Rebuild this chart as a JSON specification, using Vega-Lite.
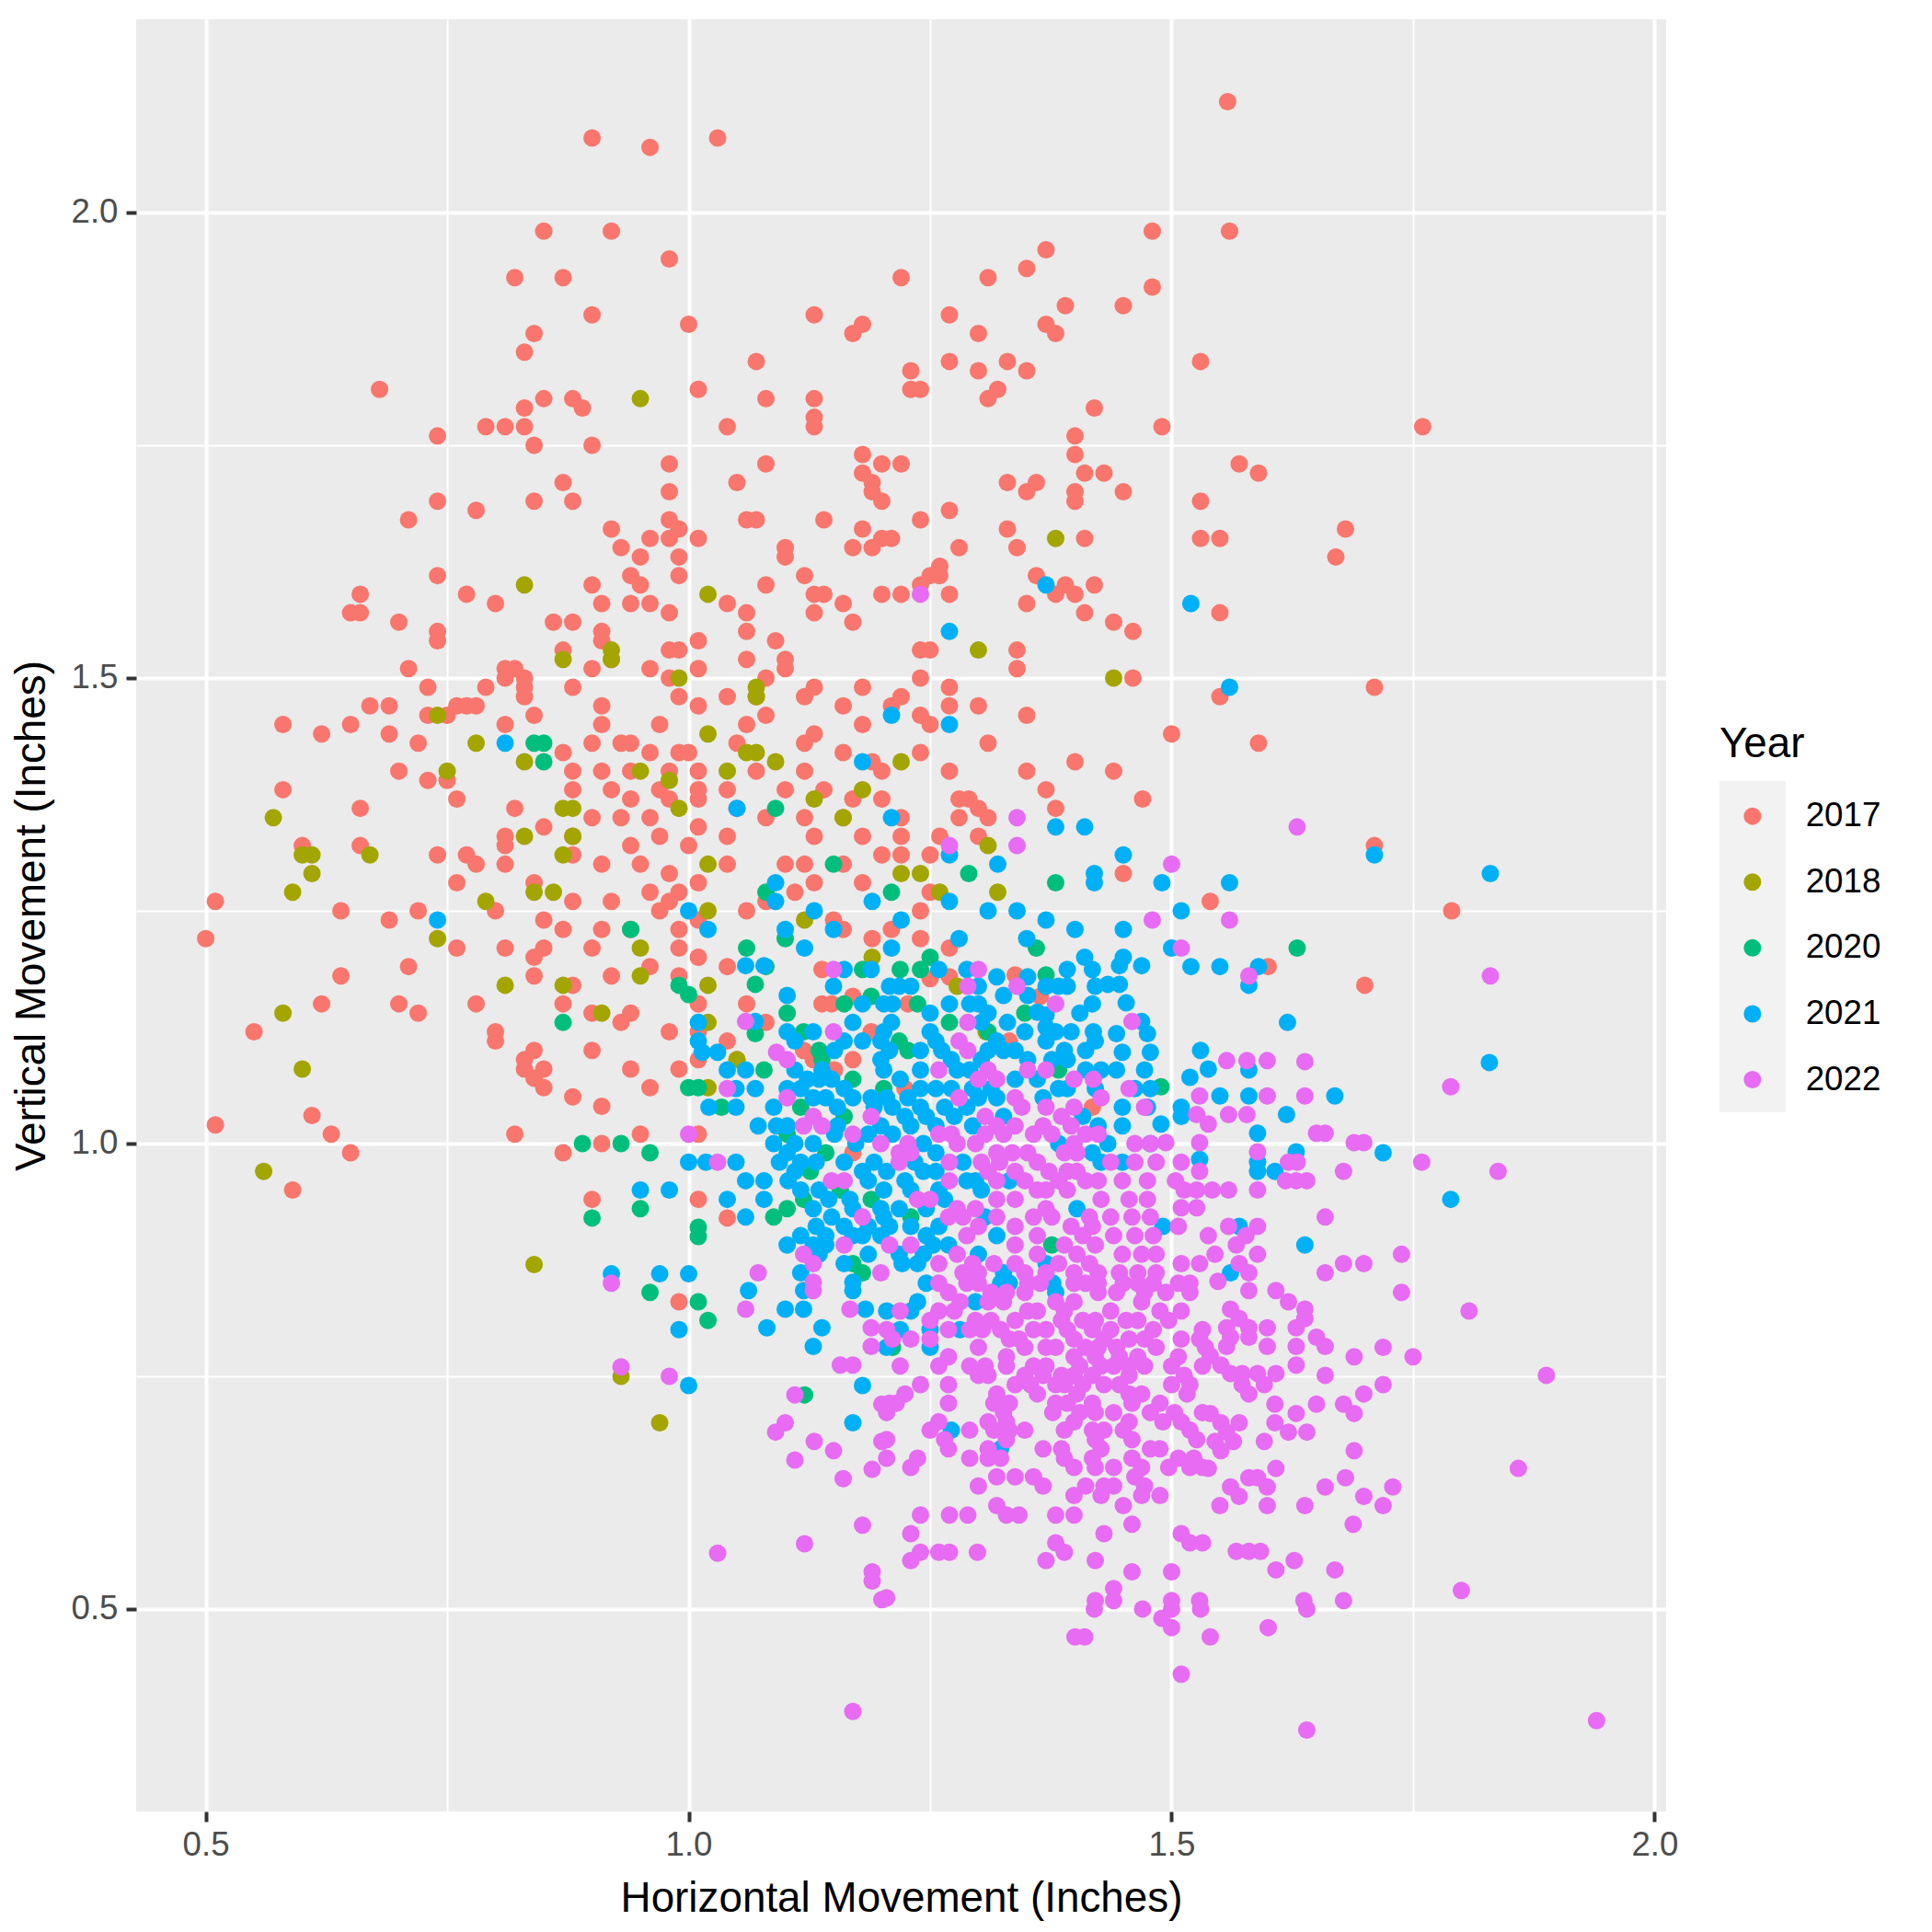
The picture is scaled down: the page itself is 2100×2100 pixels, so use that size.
{
  "$schema": "https://vega.github.io/schema/vega-lite/v6.json",
  "width": 1663,
  "height": 1948,
  "autosize": {"type": "none"},
  "padding": {"left": 148, "top": 21, "right": 289, "bottom": 131},
  "background": "white",
  "data": {"values": [
{"h":1.558,"v":2.119,"Year":"2017"},{"h":0.9,"v":2.08,"Year":"2017"},{"h":0.96,"v":2.07,"Year":"2017"},{"h":1.03,"v":2.08,"Year":"2017"},{"h":0.85,"v":1.98,"Year":"2017"},{"h":0.92,"v":1.98,"Year":"2017"},{"h":1.48,"v":1.98,"Year":"2017"},{"h":1.56,"v":1.98,"Year":"2017"},{"h":0.98,"v":1.95,"Year":"2017"},{"h":1.37,"v":1.96,"Year":"2017"},
{"h":1.35,"v":1.94,"Year":"2017"},{"h":1.22,"v":1.93,"Year":"2017"},{"h":0.82,"v":1.93,"Year":"2017"},{"h":0.87,"v":1.93,"Year":"2017"},{"h":1.31,"v":1.93,"Year":"2017"},{"h":1.48,"v":1.92,"Year":"2017"},{"h":1.39,"v":1.9,"Year":"2017"},{"h":1.45,"v":1.9,"Year":"2017"},{"h":0.9,"v":1.89,"Year":"2017"},{"h":1.13,"v":1.89,"Year":"2017"},
{"h":1.27,"v":1.89,"Year":"2017"},{"h":1.0,"v":1.88,"Year":"2017"},{"h":1.18,"v":1.88,"Year":"2017"},{"h":1.17,"v":1.87,"Year":"2017"},{"h":1.3,"v":1.87,"Year":"2017"},{"h":0.84,"v":1.87,"Year":"2017"},{"h":1.37,"v":1.88,"Year":"2017"},{"h":1.38,"v":1.87,"Year":"2017"},{"h":0.83,"v":1.85,"Year":"2017"},{"h":1.07,"v":1.84,"Year":"2017"},
{"h":1.23,"v":1.83,"Year":"2017"},{"h":1.27,"v":1.84,"Year":"2017"},{"h":1.3,"v":1.83,"Year":"2017"},{"h":1.33,"v":1.84,"Year":"2017"},{"h":1.35,"v":1.83,"Year":"2017"},{"h":1.53,"v":1.84,"Year":"2017"},{"h":0.68,"v":1.81,"Year":"2017"},{"h":0.85,"v":1.8,"Year":"2017"},{"h":0.88,"v":1.8,"Year":"2017"},{"h":0.89,"v":1.79,"Year":"2017"},
{"h":1.01,"v":1.81,"Year":"2017"},{"h":1.08,"v":1.8,"Year":"2017"},{"h":1.13,"v":1.8,"Year":"2017"},{"h":1.23,"v":1.81,"Year":"2017"},{"h":1.24,"v":1.81,"Year":"2017"},{"h":1.31,"v":1.8,"Year":"2017"},{"h":1.32,"v":1.81,"Year":"2017"},{"h":1.42,"v":1.79,"Year":"2017"},{"h":0.83,"v":1.79,"Year":"2017"},{"h":0.79,"v":1.77,"Year":"2017"},
{"h":0.81,"v":1.77,"Year":"2017"},{"h":0.83,"v":1.77,"Year":"2017"},{"h":1.04,"v":1.77,"Year":"2017"},{"h":1.13,"v":1.78,"Year":"2017"},{"h":1.13,"v":1.77,"Year":"2017"},{"h":0.74,"v":1.76,"Year":"2017"},{"h":0.84,"v":1.75,"Year":"2017"},{"h":0.9,"v":1.75,"Year":"2017"},{"h":0.98,"v":1.73,"Year":"2017"},{"h":1.08,"v":1.73,"Year":"2017"},
{"h":1.18,"v":1.74,"Year":"2017"},{"h":1.2,"v":1.73,"Year":"2017"},{"h":1.22,"v":1.73,"Year":"2017"},{"h":1.4,"v":1.76,"Year":"2017"},{"h":1.4,"v":1.74,"Year":"2017"},{"h":1.49,"v":1.77,"Year":"2017"},{"h":1.76,"v":1.77,"Year":"2017"},{"h":1.57,"v":1.73,"Year":"2017"},{"h":1.59,"v":1.72,"Year":"2017"},{"h":1.41,"v":1.72,"Year":"2017"},
{"h":1.43,"v":1.72,"Year":"2017"},{"h":0.87,"v":1.71,"Year":"2017"},{"h":1.05,"v":1.71,"Year":"2017"},{"h":1.18,"v":1.72,"Year":"2017"},{"h":1.19,"v":1.71,"Year":"2017"},{"h":1.33,"v":1.71,"Year":"2017"},{"h":1.36,"v":1.71,"Year":"2017"},{"h":0.78,"v":1.68,"Year":"2017"},{"h":0.74,"v":1.69,"Year":"2017"},{"h":0.88,"v":1.69,"Year":"2017"},
{"h":0.84,"v":1.69,"Year":"2017"},{"h":0.98,"v":1.7,"Year":"2017"},{"h":1.19,"v":1.7,"Year":"2017"},{"h":1.2,"v":1.69,"Year":"2017"},{"h":1.27,"v":1.68,"Year":"2017"},{"h":1.35,"v":1.7,"Year":"2017"},{"h":1.4,"v":1.7,"Year":"2017"},{"h":1.4,"v":1.69,"Year":"2017"},{"h":1.45,"v":1.7,"Year":"2017"},{"h":1.53,"v":1.69,"Year":"2017"},
{"h":0.71,"v":1.67,"Year":"2017"},{"h":0.92,"v":1.66,"Year":"2017"},{"h":0.98,"v":1.67,"Year":"2017"},{"h":0.99,"v":1.66,"Year":"2017"},{"h":1.06,"v":1.67,"Year":"2017"},{"h":1.07,"v":1.67,"Year":"2017"},{"h":1.14,"v":1.67,"Year":"2017"},{"h":1.18,"v":1.66,"Year":"2017"},{"h":1.24,"v":1.67,"Year":"2017"},{"h":1.33,"v":1.66,"Year":"2017"},
{"h":1.68,"v":1.66,"Year":"2017"},{"h":1.53,"v":1.65,"Year":"2017"},{"h":1.55,"v":1.65,"Year":"2017"},{"h":1.41,"v":1.65,"Year":"2017"},{"h":0.96,"v":1.65,"Year":"2017"},{"h":0.98,"v":1.65,"Year":"2017"},{"h":1.01,"v":1.65,"Year":"2017"},{"h":1.1,"v":1.64,"Year":"2017"},{"h":1.2,"v":1.65,"Year":"2017"},{"h":1.21,"v":1.65,"Year":"2017"},
{"h":1.28,"v":1.64,"Year":"2017"},{"h":1.67,"v":1.63,"Year":"2017"},{"h":0.93,"v":1.64,"Year":"2017"},{"h":0.95,"v":1.63,"Year":"2017"},{"h":0.99,"v":1.63,"Year":"2017"},{"h":1.1,"v":1.63,"Year":"2017"},{"h":1.17,"v":1.64,"Year":"2017"},{"h":1.19,"v":1.64,"Year":"2017"},{"h":1.34,"v":1.64,"Year":"2017"},{"h":0.94,"v":1.61,"Year":"2017"},
{"h":0.99,"v":1.61,"Year":"2017"},{"h":1.12,"v":1.61,"Year":"2017"},{"h":1.26,"v":1.62,"Year":"2017"},{"h":1.26,"v":1.61,"Year":"2017"},{"h":1.36,"v":1.61,"Year":"2017"},{"h":0.74,"v":1.61,"Year":"2017"},{"h":0.66,"v":1.59,"Year":"2017"},{"h":0.77,"v":1.59,"Year":"2017"},{"h":0.9,"v":1.6,"Year":"2017"},{"h":0.95,"v":1.6,"Year":"2017"},
{"h":1.08,"v":1.6,"Year":"2017"},{"h":1.24,"v":1.6,"Year":"2017"},{"h":1.25,"v":1.61,"Year":"2017"},{"h":1.27,"v":1.59,"Year":"2017"},{"h":1.39,"v":1.6,"Year":"2017"},{"h":1.42,"v":1.6,"Year":"2017"},{"h":1.4,"v":1.59,"Year":"2017"},{"h":0.91,"v":1.58,"Year":"2017"},{"h":0.94,"v":1.58,"Year":"2017"},{"h":0.96,"v":1.58,"Year":"2017"},
{"h":1.04,"v":1.58,"Year":"2017"},{"h":1.13,"v":1.59,"Year":"2017"},{"h":1.14,"v":1.59,"Year":"2017"},{"h":1.16,"v":1.58,"Year":"2017"},{"h":1.2,"v":1.59,"Year":"2017"},{"h":1.22,"v":1.59,"Year":"2017"},{"h":1.38,"v":1.59,"Year":"2017"},{"h":1.35,"v":1.58,"Year":"2017"},{"h":0.8,"v":1.58,"Year":"2017"},{"h":0.65,"v":1.57,"Year":"2017"},
{"h":0.66,"v":1.57,"Year":"2017"},{"h":0.7,"v":1.56,"Year":"2017"},{"h":0.86,"v":1.56,"Year":"2017"},{"h":0.88,"v":1.56,"Year":"2017"},{"h":0.98,"v":1.57,"Year":"2017"},{"h":1.06,"v":1.57,"Year":"2017"},{"h":1.13,"v":1.57,"Year":"2017"},{"h":1.17,"v":1.56,"Year":"2017"},{"h":1.41,"v":1.57,"Year":"2017"},{"h":1.44,"v":1.56,"Year":"2017"},
{"h":1.46,"v":1.55,"Year":"2017"},{"h":1.55,"v":1.57,"Year":"2017"},{"h":0.74,"v":1.55,"Year":"2017"},{"h":0.91,"v":1.55,"Year":"2017"},{"h":0.91,"v":1.54,"Year":"2017"},{"h":1.01,"v":1.54,"Year":"2017"},{"h":1.06,"v":1.55,"Year":"2017"},{"h":1.09,"v":1.54,"Year":"2017"},{"h":1.34,"v":1.53,"Year":"2017"},{"h":0.74,"v":1.54,"Year":"2017"},
{"h":0.87,"v":1.53,"Year":"2017"},{"h":0.92,"v":1.52,"Year":"2017"},{"h":0.98,"v":1.53,"Year":"2017"},{"h":0.99,"v":1.53,"Year":"2017"},{"h":1.06,"v":1.52,"Year":"2017"},{"h":1.1,"v":1.52,"Year":"2017"},{"h":1.24,"v":1.53,"Year":"2017"},{"h":1.25,"v":1.53,"Year":"2017"},{"h":0.71,"v":1.51,"Year":"2017"},{"h":0.82,"v":1.51,"Year":"2017"},
{"h":0.81,"v":1.51,"Year":"2017"},{"h":0.9,"v":1.51,"Year":"2017"},{"h":0.96,"v":1.51,"Year":"2017"},{"h":1.01,"v":1.51,"Year":"2017"},{"h":1.08,"v":1.5,"Year":"2017"},{"h":1.1,"v":1.51,"Year":"2017"},{"h":1.34,"v":1.51,"Year":"2017"},{"h":1.46,"v":1.5,"Year":"2017"},{"h":0.83,"v":1.5,"Year":"2017"},{"h":0.81,"v":1.5,"Year":"2017"},
{"h":0.98,"v":1.5,"Year":"2017"},{"h":1.13,"v":1.49,"Year":"2017"},{"h":1.18,"v":1.49,"Year":"2017"},{"h":1.24,"v":1.5,"Year":"2017"},{"h":1.27,"v":1.49,"Year":"2017"},{"h":1.71,"v":1.49,"Year":"2017"},{"h":0.73,"v":1.49,"Year":"2017"},{"h":0.79,"v":1.49,"Year":"2017"},{"h":0.83,"v":1.49,"Year":"2017"},{"h":0.88,"v":1.49,"Year":"2017"},
{"h":1.07,"v":1.48,"Year":"2017"},{"h":1.12,"v":1.48,"Year":"2017"},{"h":1.22,"v":1.48,"Year":"2017"},{"h":1.55,"v":1.48,"Year":"2017"},{"h":0.78,"v":1.47,"Year":"2017"},{"h":0.77,"v":1.47,"Year":"2017"},{"h":0.67,"v":1.47,"Year":"2017"},{"h":0.69,"v":1.47,"Year":"2017"},{"h":0.83,"v":1.48,"Year":"2017"},{"h":0.91,"v":1.47,"Year":"2017"},
{"h":0.99,"v":1.48,"Year":"2017"},{"h":1.01,"v":1.47,"Year":"2017"},{"h":1.04,"v":1.48,"Year":"2017"},{"h":1.16,"v":1.47,"Year":"2017"},{"h":1.21,"v":1.47,"Year":"2017"},{"h":1.27,"v":1.47,"Year":"2017"},{"h":1.3,"v":1.47,"Year":"2017"},{"h":0.73,"v":1.46,"Year":"2017"},{"h":0.75,"v":1.46,"Year":"2017"},{"h":0.76,"v":1.47,"Year":"2017"},
{"h":0.84,"v":1.46,"Year":"2017"},{"h":1.08,"v":1.46,"Year":"2017"},{"h":1.24,"v":1.46,"Year":"2017"},{"h":1.35,"v":1.46,"Year":"2017"},{"h":0.58,"v":1.45,"Year":"2017"},{"h":0.65,"v":1.45,"Year":"2017"},{"h":0.69,"v":1.44,"Year":"2017"},{"h":0.62,"v":1.44,"Year":"2017"},{"h":0.81,"v":1.45,"Year":"2017"},{"h":0.91,"v":1.45,"Year":"2017"},
{"h":0.97,"v":1.45,"Year":"2017"},{"h":1.06,"v":1.45,"Year":"2017"},{"h":1.13,"v":1.44,"Year":"2017"},{"h":1.18,"v":1.45,"Year":"2017"},{"h":1.25,"v":1.45,"Year":"2017"},{"h":1.5,"v":1.44,"Year":"2017"},{"h":1.59,"v":1.43,"Year":"2017"},{"h":0.72,"v":1.43,"Year":"2017"},{"h":0.87,"v":1.42,"Year":"2017"},{"h":0.9,"v":1.43,"Year":"2017"},
{"h":0.93,"v":1.43,"Year":"2017"},{"h":0.94,"v":1.43,"Year":"2017"},{"h":0.96,"v":1.42,"Year":"2017"},{"h":0.99,"v":1.42,"Year":"2017"},{"h":1.0,"v":1.42,"Year":"2017"},{"h":1.05,"v":1.43,"Year":"2017"},{"h":1.12,"v":1.43,"Year":"2017"},{"h":1.16,"v":1.42,"Year":"2017"},{"h":1.31,"v":1.43,"Year":"2017"},{"h":1.4,"v":1.41,"Year":"2017"},
{"h":1.19,"v":1.41,"Year":"2017"},{"h":1.24,"v":1.42,"Year":"2017"},{"h":0.7,"v":1.4,"Year":"2017"},{"h":0.91,"v":1.4,"Year":"2017"},{"h":0.88,"v":1.4,"Year":"2017"},{"h":0.94,"v":1.4,"Year":"2017"},{"h":0.98,"v":1.4,"Year":"2017"},{"h":1.01,"v":1.4,"Year":"2017"},{"h":1.07,"v":1.4,"Year":"2017"},{"h":1.12,"v":1.4,"Year":"2017"},
{"h":1.2,"v":1.4,"Year":"2017"},{"h":1.27,"v":1.4,"Year":"2017"},{"h":1.35,"v":1.4,"Year":"2017"},{"h":1.44,"v":1.4,"Year":"2017"},{"h":0.58,"v":1.38,"Year":"2017"},{"h":0.73,"v":1.39,"Year":"2017"},{"h":0.75,"v":1.39,"Year":"2017"},{"h":0.88,"v":1.38,"Year":"2017"},{"h":0.92,"v":1.38,"Year":"2017"},{"h":0.97,"v":1.38,"Year":"2017"},
{"h":1.01,"v":1.38,"Year":"2017"},{"h":1.04,"v":1.38,"Year":"2017"},{"h":1.1,"v":1.38,"Year":"2017"},{"h":1.14,"v":1.38,"Year":"2017"},{"h":1.37,"v":1.38,"Year":"2017"},{"h":1.47,"v":1.37,"Year":"2017"},{"h":0.76,"v":1.37,"Year":"2017"},{"h":0.94,"v":1.37,"Year":"2017"},{"h":0.98,"v":1.37,"Year":"2017"},{"h":1.01,"v":1.37,"Year":"2017"},
{"h":1.05,"v":1.36,"Year":"2017"},{"h":1.17,"v":1.37,"Year":"2017"},{"h":1.2,"v":1.37,"Year":"2017"},{"h":1.28,"v":1.37,"Year":"2017"},{"h":1.29,"v":1.37,"Year":"2017"},{"h":1.3,"v":1.36,"Year":"2017"},{"h":1.38,"v":1.36,"Year":"2017"},{"h":0.66,"v":1.36,"Year":"2017"},{"h":0.82,"v":1.36,"Year":"2017"},{"h":0.9,"v":1.35,"Year":"2017"},
{"h":0.93,"v":1.35,"Year":"2017"},{"h":0.96,"v":1.35,"Year":"2017"},{"h":1.01,"v":1.34,"Year":"2017"},{"h":1.08,"v":1.35,"Year":"2017"},{"h":1.12,"v":1.35,"Year":"2017"},{"h":1.16,"v":1.35,"Year":"2017"},{"h":1.22,"v":1.35,"Year":"2017"},{"h":1.28,"v":1.35,"Year":"2017"},{"h":1.31,"v":1.35,"Year":"2017"},{"h":0.81,"v":1.33,"Year":"2017"},
{"h":0.85,"v":1.34,"Year":"2017"},{"h":0.88,"v":1.33,"Year":"2017"},{"h":0.97,"v":1.33,"Year":"2017"},{"h":1.04,"v":1.33,"Year":"2017"},{"h":1.13,"v":1.33,"Year":"2017"},{"h":1.18,"v":1.33,"Year":"2017"},{"h":1.22,"v":1.33,"Year":"2017"},{"h":1.26,"v":1.33,"Year":"2017"},{"h":1.3,"v":1.33,"Year":"2017"},{"h":0.6,"v":1.32,"Year":"2017"},
{"h":0.66,"v":1.32,"Year":"2017"},{"h":0.77,"v":1.31,"Year":"2017"},{"h":0.81,"v":1.32,"Year":"2017"},{"h":0.94,"v":1.32,"Year":"2017"},{"h":1.0,"v":1.32,"Year":"2017"},{"h":1.71,"v":1.32,"Year":"2017"},{"h":0.78,"v":1.3,"Year":"2017"},{"h":0.74,"v":1.31,"Year":"2017"},{"h":0.81,"v":1.3,"Year":"2017"},{"h":0.88,"v":1.31,"Year":"2017"},
{"h":0.91,"v":1.3,"Year":"2017"},{"h":0.95,"v":1.3,"Year":"2017"},{"h":1.04,"v":1.3,"Year":"2017"},{"h":1.1,"v":1.3,"Year":"2017"},{"h":1.12,"v":1.3,"Year":"2017"},{"h":1.16,"v":1.3,"Year":"2017"},{"h":1.2,"v":1.31,"Year":"2017"},{"h":1.22,"v":1.31,"Year":"2017"},{"h":1.25,"v":1.31,"Year":"2017"},{"h":0.76,"v":1.28,"Year":"2017"},
{"h":0.84,"v":1.28,"Year":"2017"},{"h":0.98,"v":1.29,"Year":"2017"},{"h":1.01,"v":1.28,"Year":"2017"},{"h":1.13,"v":1.28,"Year":"2017"},{"h":1.18,"v":1.28,"Year":"2017"},{"h":1.45,"v":1.29,"Year":"2017"},{"h":0.99,"v":1.27,"Year":"2017"},{"h":0.96,"v":1.27,"Year":"2017"},{"h":0.88,"v":1.26,"Year":"2017"},{"h":0.92,"v":1.26,"Year":"2017"},
{"h":0.98,"v":1.26,"Year":"2017"},{"h":1.08,"v":1.26,"Year":"2017"},{"h":1.11,"v":1.27,"Year":"2017"},{"h":1.25,"v":1.27,"Year":"2017"},{"h":1.54,"v":1.26,"Year":"2017"},{"h":0.51,"v":1.26,"Year":"2017"},{"h":0.64,"v":1.25,"Year":"2017"},{"h":0.72,"v":1.25,"Year":"2017"},{"h":0.8,"v":1.25,"Year":"2017"},{"h":0.85,"v":1.24,"Year":"2017"},
{"h":0.97,"v":1.25,"Year":"2017"},{"h":1.01,"v":1.24,"Year":"2017"},{"h":1.06,"v":1.25,"Year":"2017"},{"h":1.15,"v":1.24,"Year":"2017"},{"h":1.24,"v":1.25,"Year":"2017"},{"h":0.69,"v":1.24,"Year":"2017"},{"h":1.79,"v":1.25,"Year":"2017"},{"h":0.5,"v":1.22,"Year":"2017"},{"h":0.87,"v":1.23,"Year":"2017"},{"h":0.91,"v":1.23,"Year":"2017"},
{"h":0.94,"v":1.23,"Year":"2017"},{"h":0.99,"v":1.23,"Year":"2017"},{"h":1.16,"v":1.23,"Year":"2017"},{"h":1.19,"v":1.22,"Year":"2017"},{"h":1.21,"v":1.23,"Year":"2017"},{"h":1.24,"v":1.22,"Year":"2017"},{"h":0.76,"v":1.21,"Year":"2017"},{"h":0.81,"v":1.21,"Year":"2017"},{"h":0.85,"v":1.21,"Year":"2017"},{"h":0.9,"v":1.21,"Year":"2017"},
{"h":0.99,"v":1.21,"Year":"2017"},{"h":1.01,"v":1.2,"Year":"2017"},{"h":1.27,"v":1.21,"Year":"2017"},{"h":0.84,"v":1.2,"Year":"2017"},{"h":0.96,"v":1.19,"Year":"2017"},{"h":1.04,"v":1.19,"Year":"2017"},{"h":0.71,"v":1.19,"Year":"2017"},{"h":0.64,"v":1.18,"Year":"2017"},{"h":0.84,"v":1.18,"Year":"2017"},
{"h":0.88,"v":1.17,"Year":"2017"},{"h":0.92,"v":1.18,"Year":"2017"},{"h":0.99,"v":1.18,"Year":"2017"},{"h":1.7,"v":1.17,"Year":"2017"},{"h":1.6,"v":1.19,"Year":"2017"},{"h":0.62,"v":1.15,"Year":"2017"},{"h":0.7,"v":1.15,"Year":"2017"},{"h":0.72,"v":1.14,"Year":"2017"},{"h":0.78,"v":1.15,"Year":"2017"},{"h":0.87,"v":1.15,"Year":"2017"},
{"h":0.9,"v":1.14,"Year":"2017"},{"h":0.94,"v":1.14,"Year":"2017"},{"h":1.01,"v":1.15,"Year":"2017"},{"h":1.06,"v":1.15,"Year":"2017"},{"h":0.8,"v":1.12,"Year":"2017"},{"h":0.8,"v":1.11,"Year":"2017"},{"h":0.93,"v":1.13,"Year":"2017"},{"h":0.98,"v":1.12,"Year":"2017"},{"h":1.01,"v":1.12,"Year":"2017"},{"h":1.04,"v":1.11,"Year":"2017"},
{"h":1.08,"v":1.13,"Year":"2017"},{"h":0.55,"v":1.12,"Year":"2017"},{"h":0.83,"v":1.09,"Year":"2017"},{"h":0.84,"v":1.1,"Year":"2017"},{"h":0.85,"v":1.08,"Year":"2017"},{"h":0.9,"v":1.1,"Year":"2017"},{"h":1.01,"v":1.09,"Year":"2017"},{"h":1.05,"v":1.09,"Year":"2017"},{"h":0.83,"v":1.08,"Year":"2017"},{"h":0.85,"v":1.06,"Year":"2017"},
{"h":0.94,"v":1.08,"Year":"2017"},{"h":0.96,"v":1.06,"Year":"2017"},{"h":0.88,"v":1.05,"Year":"2017"},{"h":0.84,"v":1.07,"Year":"2017"},{"h":0.91,"v":1.04,"Year":"2017"},{"h":0.99,"v":1.08,"Year":"2017"},{"h":0.61,"v":1.03,"Year":"2017"},{"h":0.51,"v":1.02,"Year":"2017"},{"h":0.63,"v":1.01,"Year":"2017"},{"h":0.82,"v":1.01,"Year":"2017"},
{"h":0.95,"v":1.01,"Year":"2017"},{"h":1.01,"v":1.01,"Year":"2017"},{"h":0.65,"v":0.99,"Year":"2017"},{"h":0.87,"v":0.99,"Year":"2017"},{"h":0.91,"v":1.0,"Year":"2017"},{"h":0.59,"v":0.95,"Year":"2017"},{"h":1.01,"v":0.94,"Year":"2017"},{"h":0.9,"v":0.94,"Year":"2017"},{"h":1.04,"v":0.92,"Year":"2017"},{"h":0.99,"v":0.83,"Year":"2017"},
{"h":1.138,"v":1.187,"Year":"2017"},{"h":1.25,"v":1.177,"Year":"2017"},{"h":1.27,"v":1.179,"Year":"2017"},{"h":1.338,"v":1.181,"Year":"2017"},{"h":1.17,"v":1.158,"Year":"2017"},{"h":1.364,"v":1.158,"Year":"2017"},{"h":1.138,"v":1.15,"Year":"2017"},{"h":1.148,"v":1.15,"Year":"2017"},{"h":1.227,"v":1.15,"Year":"2017"},{"h":1.189,"v":1.12,"Year":"2017"},
{"h":1.332,"v":1.11,"Year":"2017"},{"h":1.119,"v":1.1,"Year":"2017"},{"h":1.129,"v":1.09,"Year":"2017"},{"h":1.17,"v":1.09,"Year":"2017"},{"h":1.151,"v":1.079,"Year":"2017"},{"h":1.224,"v":1.059,"Year":"2017"},{"h":1.418,"v":1.039,"Year":"2017"},{"h":1.17,"v":0.99,"Year":"2017"},
{"h":0.95,"v":1.8,"Year":"2018"},{"h":0.83,"v":1.6,"Year":"2018"},{"h":1.38,"v":1.65,"Year":"2018"},{"h":1.02,"v":1.59,"Year":"2018"},{"h":1.3,"v":1.53,"Year":"2018"},{"h":0.92,"v":1.53,"Year":"2018"},{"h":0.92,"v":1.52,"Year":"2018"},{"h":0.87,"v":1.52,"Year":"2018"},{"h":1.44,"v":1.5,"Year":"2018"},{"h":0.99,"v":1.5,"Year":"2018"},
{"h":1.07,"v":1.49,"Year":"2018"},{"h":1.07,"v":1.48,"Year":"2018"},{"h":0.74,"v":1.46,"Year":"2018"},{"h":0.78,"v":1.43,"Year":"2018"},{"h":1.02,"v":1.44,"Year":"2018"},{"h":1.06,"v":1.42,"Year":"2018"},{"h":1.07,"v":1.42,"Year":"2018"},{"h":1.09,"v":1.41,"Year":"2018"},{"h":1.22,"v":1.41,"Year":"2018"},{"h":0.95,"v":1.4,"Year":"2018"},
{"h":0.75,"v":1.4,"Year":"2018"},{"h":0.83,"v":1.41,"Year":"2018"},{"h":1.04,"v":1.4,"Year":"2018"},{"h":0.98,"v":1.39,"Year":"2018"},{"h":1.18,"v":1.38,"Year":"2018"},{"h":0.57,"v":1.35,"Year":"2018"},{"h":0.87,"v":1.36,"Year":"2018"},{"h":0.88,"v":1.36,"Year":"2018"},{"h":0.99,"v":1.36,"Year":"2018"},{"h":1.13,"v":1.37,"Year":"2018"},
{"h":1.16,"v":1.35,"Year":"2018"},{"h":0.6,"v":1.31,"Year":"2018"},{"h":0.61,"v":1.31,"Year":"2018"},{"h":0.67,"v":1.31,"Year":"2018"},{"h":0.83,"v":1.33,"Year":"2018"},{"h":0.88,"v":1.33,"Year":"2018"},{"h":0.87,"v":1.31,"Year":"2018"},{"h":1.31,"v":1.32,"Year":"2018"},{"h":1.02,"v":1.3,"Year":"2018"},{"h":0.61,"v":1.29,"Year":"2018"},
{"h":0.59,"v":1.27,"Year":"2018"},{"h":0.84,"v":1.27,"Year":"2018"},{"h":0.86,"v":1.27,"Year":"2018"},{"h":1.22,"v":1.29,"Year":"2018"},{"h":1.24,"v":1.29,"Year":"2018"},{"h":1.26,"v":1.27,"Year":"2018"},{"h":1.32,"v":1.27,"Year":"2018"},{"h":0.79,"v":1.26,"Year":"2018"},{"h":1.02,"v":1.25,"Year":"2018"},{"h":1.12,"v":1.24,"Year":"2018"},
{"h":0.74,"v":1.22,"Year":"2018"},{"h":0.95,"v":1.21,"Year":"2018"},{"h":1.19,"v":1.2,"Year":"2018"},{"h":0.95,"v":1.18,"Year":"2018"},{"h":1.02,"v":1.17,"Year":"2018"},{"h":0.81,"v":1.17,"Year":"2018"},{"h":0.87,"v":1.17,"Year":"2018"},{"h":0.58,"v":1.14,"Year":"2018"},{"h":0.91,"v":1.14,"Year":"2018"},{"h":1.02,"v":1.13,"Year":"2018"},
{"h":0.6,"v":1.08,"Year":"2018"},{"h":1.05,"v":1.09,"Year":"2018"},{"h":0.56,"v":0.97,"Year":"2018"},{"h":0.84,"v":0.87,"Year":"2018"},{"h":0.93,"v":0.75,"Year":"2018"},{"h":0.97,"v":0.7,"Year":"2018"},{"h":1.02,"v":1.06,"Year":"2018"},{"h":1.278,"v":1.169,"Year":"2018"},{"h":1.308,"v":1.12,"Year":"2018"},
{"h":0.84,"v":1.43,"Year":"2020"},{"h":0.85,"v":1.43,"Year":"2020"},{"h":0.85,"v":1.41,"Year":"2020"},{"h":1.38,"v":1.28,"Year":"2020"},{"h":1.29,"v":1.29,"Year":"2020"},{"h":1.15,"v":1.3,"Year":"2020"},{"h":1.09,"v":1.36,"Year":"2020"},{"h":1.08,"v":1.27,"Year":"2020"},{"h":1.21,"v":1.27,"Year":"2020"},{"h":1.63,"v":1.21,"Year":"2020"},
{"h":0.94,"v":1.23,"Year":"2020"},{"h":1.06,"v":1.21,"Year":"2020"},{"h":1.1,"v":1.22,"Year":"2020"},{"h":0.99,"v":1.17,"Year":"2020"},{"h":1.0,"v":1.16,"Year":"2020"},{"h":0.87,"v":1.13,"Year":"2020"},{"h":1.08,"v":1.19,"Year":"2020"},{"h":1.25,"v":1.2,"Year":"2020"},{"h":1.36,"v":1.21,"Year":"2020"},{"h":1.0,"v":1.06,"Year":"2020"},
{"h":1.01,"v":1.06,"Year":"2020"},{"h":1.489,"v":1.061,"Year":"2020"},{"h":0.89,"v":1.0,"Year":"2020"},{"h":0.93,"v":1.0,"Year":"2020"},{"h":0.9,"v":0.92,"Year":"2020"},{"h":0.95,"v":0.93,"Year":"2020"},{"h":0.96,"v":0.99,"Year":"2020"},{"h":1.01,"v":0.91,"Year":"2020"},{"h":1.01,"v":0.9,"Year":"2020"},{"h":0.96,"v":0.84,"Year":"2020"},
{"h":1.01,"v":0.83,"Year":"2020"},{"h":1.02,"v":0.81,"Year":"2020"},{"h":1.12,"v":0.73,"Year":"2020"},{"h":1.069,"v":1.171,"Year":"2020"},{"h":1.069,"v":1.118,"Year":"2020"},{"h":1.078,"v":1.079,"Year":"2020"},{"h":1.034,"v":1.039,"Year":"2020"},{"h":1.088,"v":0.921,"Year":"2020"},{"h":1.211,"v":0.781,"Year":"2020"},
{"h":1.18,"v":1.187,"Year":"2020"},{"h":1.219,"v":1.187,"Year":"2020"},{"h":1.24,"v":1.187,"Year":"2020"},{"h":1.37,"v":1.181,"Year":"2020"},{"h":1.189,"v":1.158,"Year":"2020"},{"h":1.161,"v":1.15,"Year":"2020"},{"h":1.237,"v":1.15,"Year":"2020"},{"h":1.102,"v":1.14,"Year":"2020"},{"h":1.27,"v":1.13,"Year":"2020"},{"h":1.348,"v":1.14,"Year":"2020"},
{"h":1.119,"v":1.12,"Year":"2020"},{"h":1.31,"v":1.12,"Year":"2020"},{"h":1.218,"v":1.11,"Year":"2020"},{"h":1.135,"v":1.1,"Year":"2020"},{"h":1.227,"v":1.1,"Year":"2020"},{"h":1.138,"v":1.09,"Year":"2020"},{"h":1.383,"v":1.079,"Year":"2020"},{"h":1.17,"v":1.069,"Year":"2020"},{"h":1.202,"v":1.059,"Year":"2020"},{"h":1.116,"v":1.039,"Year":"2020"},
{"h":1.161,"v":1.029,"Year":"2020"},{"h":1.102,"v":1.01,"Year":"2020"},{"h":1.142,"v":0.99,"Year":"2020"},{"h":1.126,"v":0.97,"Year":"2020"},{"h":1.157,"v":0.95,"Year":"2020"},{"h":1.119,"v":0.94,"Year":"2020"},{"h":1.189,"v":0.94,"Year":"2020"},{"h":1.102,"v":0.93,"Year":"2020"},{"h":1.23,"v":0.921,"Year":"2020"},{"h":1.376,"v":0.891,"Year":"2020"},
{"h":1.17,"v":0.871,"Year":"2020"},{"h":1.18,"v":0.861,"Year":"2020"},
{"h":1.37,"v":1.6,"Year":"2021"},{"h":1.52,"v":1.58,"Year":"2021"},{"h":1.27,"v":1.55,"Year":"2021"},{"h":1.56,"v":1.49,"Year":"2021"},{"h":1.21,"v":1.46,"Year":"2021"},{"h":1.27,"v":1.45,"Year":"2021"},{"h":0.81,"v":1.43,"Year":"2021"},{"h":1.18,"v":1.41,"Year":"2021"},{"h":1.05,"v":1.36,"Year":"2021"},{"h":1.21,"v":1.35,"Year":"2021"},
{"h":1.38,"v":1.34,"Year":"2021"},{"h":1.41,"v":1.34,"Year":"2021"},{"h":1.27,"v":1.31,"Year":"2021"},{"h":1.45,"v":1.31,"Year":"2021"},{"h":1.32,"v":1.3,"Year":"2021"},{"h":1.71,"v":1.31,"Year":"2021"},{"h":1.83,"v":1.29,"Year":"2021"},{"h":1.42,"v":1.29,"Year":"2021"},{"h":1.49,"v":1.28,"Year":"2021"},{"h":1.56,"v":1.28,"Year":"2021"},
{"h":1.42,"v":1.28,"Year":"2021"},{"h":1.09,"v":1.28,"Year":"2021"},{"h":1.09,"v":1.26,"Year":"2021"},{"h":1.13,"v":1.25,"Year":"2021"},{"h":1.19,"v":1.26,"Year":"2021"},{"h":1.22,"v":1.24,"Year":"2021"},{"h":1.27,"v":1.26,"Year":"2021"},{"h":1.31,"v":1.25,"Year":"2021"},{"h":1.34,"v":1.25,"Year":"2021"},{"h":1.37,"v":1.24,"Year":"2021"},
{"h":1.4,"v":1.23,"Year":"2021"},{"h":1.45,"v":1.23,"Year":"2021"},{"h":1.51,"v":1.25,"Year":"2021"},{"h":0.74,"v":1.24,"Year":"2021"},{"h":1.0,"v":1.25,"Year":"2021"},{"h":1.02,"v":1.23,"Year":"2021"},{"h":1.1,"v":1.23,"Year":"2021"},{"h":1.15,"v":1.23,"Year":"2021"},{"h":1.12,"v":1.21,"Year":"2021"},{"h":1.21,"v":1.21,"Year":"2021"},
{"h":1.28,"v":1.22,"Year":"2021"},{"h":1.35,"v":1.22,"Year":"2021"},{"h":1.41,"v":1.2,"Year":"2021"},{"h":1.45,"v":1.2,"Year":"2021"},{"h":1.5,"v":1.21,"Year":"2021"},{"h":1.52,"v":1.19,"Year":"2021"},{"h":1.55,"v":1.19,"Year":"2021"},{"h":1.59,"v":1.19,"Year":"2021"},{"h":1.58,"v":1.17,"Year":"2021"},{"h":1.62,"v":1.13,"Year":"2021"},
{"h":1.01,"v":1.13,"Year":"2021"},{"h":1.01,"v":1.11,"Year":"2021"},{"h":1.53,"v":1.1,"Year":"2021"},{"h":1.0,"v":0.98,"Year":"2021"},{"h":0.95,"v":0.95,"Year":"2021"},{"h":0.98,"v":0.95,"Year":"2021"},{"h":0.92,"v":0.86,"Year":"2021"},{"h":0.97,"v":0.86,"Year":"2021"},{"h":1.0,"v":0.86,"Year":"2021"},{"h":0.99,"v":0.8,"Year":"2021"},
{"h":1.0,"v":0.74,"Year":"2021"},{"h":1.18,"v":0.74,"Year":"2021"},{"h":1.17,"v":0.7,"Year":"2021"},
{"h":1.059,"v":1.191,"Year":"2021"},{"h":1.078,"v":1.191,"Year":"2021"},{"h":1.446,"v":1.191,"Year":"2021"},{"h":1.469,"v":1.191,"Year":"2021"},{"h":1.434,"v":1.171,"Year":"2021"},{"h":1.446,"v":1.171,"Year":"2021"},{"h":1.453,"v":1.151,"Year":"2021"},{"h":1.069,"v":1.131,"Year":"2021"},{"h":1.469,"v":1.131,"Year":"2021"},{"h":1.443,"v":1.118,"Year":"2021"},
{"h":1.475,"v":1.118,"Year":"2021"},{"h":1.014,"v":1.098,"Year":"2021"},{"h":1.03,"v":1.098,"Year":"2021"},{"h":1.449,"v":1.098,"Year":"2021"},{"h":1.478,"v":1.098,"Year":"2021"},{"h":1.04,"v":1.079,"Year":"2021"},{"h":1.059,"v":1.079,"Year":"2021"},{"h":1.443,"v":1.079,"Year":"2021"},{"h":1.472,"v":1.079,"Year":"2021"},{"h":1.049,"v":1.059,"Year":"2021"},
{"h":1.069,"v":1.059,"Year":"2021"},{"h":1.462,"v":1.059,"Year":"2021"},{"h":1.478,"v":1.059,"Year":"2021"},{"h":1.021,"v":1.039,"Year":"2021"},{"h":1.049,"v":1.039,"Year":"2021"},{"h":1.088,"v":1.039,"Year":"2021"},{"h":1.449,"v":1.039,"Year":"2021"},{"h":1.475,"v":1.039,"Year":"2021"},{"h":1.072,"v":1.019,"Year":"2021"},{"h":1.091,"v":1.019,"Year":"2021"},
{"h":1.449,"v":1.019,"Year":"2021"},{"h":1.088,"v":1.0,"Year":"2021"},{"h":1.434,"v":1.0,"Year":"2021"},{"h":1.478,"v":1.0,"Year":"2021"},{"h":1.018,"v":0.98,"Year":"2021"},{"h":1.049,"v":0.98,"Year":"2021"},{"h":1.094,"v":0.98,"Year":"2021"},{"h":1.449,"v":0.98,"Year":"2021"},{"h":1.059,"v":0.96,"Year":"2021"},{"h":1.078,"v":0.96,"Year":"2021"},
{"h":1.04,"v":0.94,"Year":"2021"},{"h":1.078,"v":0.94,"Year":"2021"},{"h":1.059,"v":0.921,"Year":"2021"},
{"h":1.062,"v":0.842,"Year":"2021"},{"h":1.119,"v":0.842,"Year":"2021"},{"h":1.17,"v":0.842,"Year":"2021"},{"h":1.1,"v":0.822,"Year":"2021"},{"h":1.119,"v":0.822,"Year":"2021"},{"h":1.183,"v":0.822,"Year":"2021"},{"h":1.081,"v":0.802,"Year":"2021"},{"h":1.138,"v":0.802,"Year":"2021"},{"h":1.129,"v":0.782,"Year":"2021"},
{"h":1.161,"v":1.187,"Year":"2021"},{"h":1.189,"v":1.187,"Year":"2021"},{"h":1.259,"v":1.187,"Year":"2021"},{"h":1.288,"v":1.187,"Year":"2021"},{"h":1.392,"v":1.187,"Year":"2021"},{"h":1.418,"v":1.187,"Year":"2021"},{"h":1.319,"v":1.179,"Year":"2021"},{"h":1.351,"v":1.179,"Year":"2021"},
{"h":1.15,"v":1.169,"Year":"2021"},{"h":1.208,"v":1.169,"Year":"2021"},{"h":1.218,"v":1.169,"Year":"2021"},{"h":1.23,"v":1.169,"Year":"2021"},{"h":1.3,"v":1.169,"Year":"2021"},{"h":1.37,"v":1.169,"Year":"2021"},{"h":1.383,"v":1.169,"Year":"2021"},{"h":1.392,"v":1.169,"Year":"2021"},{"h":1.421,"v":1.169,"Year":"2021"},
{"h":1.102,"v":1.159,"Year":"2021"},{"h":1.326,"v":1.159,"Year":"2021"},{"h":1.351,"v":1.159,"Year":"2021"},
{"h":1.18,"v":1.15,"Year":"2021"},{"h":1.202,"v":1.15,"Year":"2021"},{"h":1.211,"v":1.15,"Year":"2021"},{"h":1.27,"v":1.15,"Year":"2021"},{"h":1.291,"v":1.15,"Year":"2021"},{"h":1.3,"v":1.15,"Year":"2021"},{"h":1.418,"v":1.15,"Year":"2021"},
{"h":1.361,"v":1.141,"Year":"2021"},{"h":1.25,"v":1.14,"Year":"2021"},{"h":1.31,"v":1.14,"Year":"2021"},{"h":1.405,"v":1.14,"Year":"2021"},{"h":1.37,"v":1.138,"Year":"2021"},
{"h":1.17,"v":1.13,"Year":"2021"},{"h":1.21,"v":1.13,"Year":"2021"},{"h":1.303,"v":1.13,"Year":"2021"},{"h":1.33,"v":1.13,"Year":"2021"},{"h":1.37,"v":1.125,"Year":"2021"},
{"h":1.102,"v":1.12,"Year":"2021"},{"h":1.129,"v":1.12,"Year":"2021"},{"h":1.202,"v":1.12,"Year":"2021"},{"h":1.25,"v":1.12,"Year":"2021"},{"h":1.348,"v":1.12,"Year":"2021"},{"h":1.38,"v":1.12,"Year":"2021"},{"h":1.396,"v":1.12,"Year":"2021"},{"h":1.419,"v":1.12,"Year":"2021"},
{"h":1.11,"v":1.11,"Year":"2021"},{"h":1.161,"v":1.11,"Year":"2021"},{"h":1.18,"v":1.11,"Year":"2021"},{"h":1.199,"v":1.11,"Year":"2021"},{"h":1.256,"v":1.11,"Year":"2021"},{"h":1.319,"v":1.11,"Year":"2021"},{"h":1.37,"v":1.11,"Year":"2021"},{"h":1.421,"v":1.11,"Year":"2021"},
{"h":1.151,"v":1.1,"Year":"2021"},{"h":1.208,"v":1.1,"Year":"2021"},{"h":1.24,"v":1.1,"Year":"2021"},{"h":1.262,"v":1.1,"Year":"2021"},{"h":1.31,"v":1.1,"Year":"2021"},{"h":1.326,"v":1.1,"Year":"2021"},{"h":1.338,"v":1.1,"Year":"2021"},{"h":1.389,"v":1.1,"Year":"2021"},{"h":1.411,"v":1.1,"Year":"2021"},
{"h":1.199,"v":1.09,"Year":"2021"},{"h":1.272,"v":1.09,"Year":"2021"},{"h":1.303,"v":1.09,"Year":"2021"},{"h":1.351,"v":1.09,"Year":"2021"},{"h":1.376,"v":1.09,"Year":"2021"},{"h":1.392,"v":1.09,"Year":"2021"},
{"h":1.11,"v":1.079,"Year":"2021"},{"h":1.138,"v":1.079,"Year":"2021"},{"h":1.202,"v":1.079,"Year":"2021"},{"h":1.24,"v":1.079,"Year":"2021"},{"h":1.278,"v":1.079,"Year":"2021"},{"h":1.291,"v":1.079,"Year":"2021"},{"h":1.411,"v":1.079,"Year":"2021"},{"h":1.427,"v":1.079,"Year":"2021"},
{"h":1.123,"v":1.069,"Year":"2021"},{"h":1.135,"v":1.069,"Year":"2021"},{"h":1.148,"v":1.069,"Year":"2021"},{"h":1.219,"v":1.069,"Year":"2021"},{"h":1.338,"v":1.069,"Year":"2021"},{"h":1.361,"v":1.069,"Year":"2021"},
{"h":1.102,"v":1.059,"Year":"2021"},{"h":1.116,"v":1.059,"Year":"2021"},{"h":1.161,"v":1.059,"Year":"2021"},{"h":1.24,"v":1.059,"Year":"2021"},{"h":1.256,"v":1.059,"Year":"2021"},{"h":1.272,"v":1.059,"Year":"2021"},{"h":1.294,"v":1.059,"Year":"2021"},{"h":1.313,"v":1.059,"Year":"2021"},{"h":1.383,"v":1.059,"Year":"2021"},{"h":1.392,"v":1.059,"Year":"2021"},
{"h":1.421,"v":1.059,"Year":"2021"},
{"h":1.129,"v":1.049,"Year":"2021"},{"h":1.142,"v":1.049,"Year":"2021"},{"h":1.17,"v":1.049,"Year":"2021"},{"h":1.189,"v":1.049,"Year":"2021"},{"h":1.205,"v":1.049,"Year":"2021"},{"h":1.227,"v":1.049,"Year":"2021"},{"h":1.3,"v":1.049,"Year":"2021"},{"h":1.319,"v":1.049,"Year":"2021"},{"h":1.367,"v":1.049,"Year":"2021"},
{"h":1.154,"v":1.039,"Year":"2021"},{"h":1.192,"v":1.039,"Year":"2021"},{"h":1.211,"v":1.039,"Year":"2021"},{"h":1.24,"v":1.039,"Year":"2021"},{"h":1.265,"v":1.039,"Year":"2021"},{"h":1.288,"v":1.039,"Year":"2021"},
{"h":1.224,"v":1.029,"Year":"2021"},{"h":1.246,"v":1.029,"Year":"2021"},{"h":1.275,"v":1.029,"Year":"2021"},{"h":1.326,"v":1.029,"Year":"2021"},{"h":1.408,"v":1.029,"Year":"2021"},
{"h":1.102,"v":1.019,"Year":"2021"},{"h":1.154,"v":1.019,"Year":"2021"},{"h":1.199,"v":1.019,"Year":"2021"},{"h":1.23,"v":1.019,"Year":"2021"},{"h":1.256,"v":1.019,"Year":"2021"},{"h":1.294,"v":1.019,"Year":"2021"},{"h":1.424,"v":1.019,"Year":"2021"},
{"h":1.151,"v":1.01,"Year":"2021"},{"h":1.186,"v":1.01,"Year":"2021"},{"h":1.211,"v":1.01,"Year":"2021"},
{"h":1.11,"v":1.0,"Year":"2021"},{"h":1.129,"v":1.0,"Year":"2021"},{"h":1.173,"v":1.0,"Year":"2021"},{"h":1.243,"v":1.0,"Year":"2021"},{"h":1.383,"v":1.0,"Year":"2021"},
{"h":1.102,"v":0.99,"Year":"2021"},{"h":1.256,"v":0.99,"Year":"2021"},{"h":1.418,"v":0.99,"Year":"2021"},
{"h":1.116,"v":0.98,"Year":"2021"},{"h":1.132,"v":0.98,"Year":"2021"},{"h":1.161,"v":0.98,"Year":"2021"},{"h":1.192,"v":0.98,"Year":"2021"},{"h":1.234,"v":0.98,"Year":"2021"},{"h":1.284,"v":0.98,"Year":"2021"},{"h":1.427,"v":0.98,"Year":"2021"},
{"h":1.11,"v":0.97,"Year":"2021"},{"h":1.18,"v":0.97,"Year":"2021"},{"h":1.205,"v":0.97,"Year":"2021"},{"h":1.243,"v":0.97,"Year":"2021"},{"h":1.256,"v":0.97,"Year":"2021"},
{"h":1.103,"v":0.96,"Year":"2021"},{"h":1.186,"v":0.96,"Year":"2021"},{"h":1.224,"v":0.96,"Year":"2021"},{"h":1.288,"v":0.96,"Year":"2021"},{"h":1.297,"v":0.96,"Year":"2021"},{"h":1.332,"v":0.96,"Year":"2021"},
{"h":1.116,"v":0.95,"Year":"2021"},{"h":1.135,"v":0.95,"Year":"2021"},{"h":1.202,"v":0.95,"Year":"2021"},{"h":1.23,"v":0.95,"Year":"2021"},{"h":1.259,"v":0.95,"Year":"2021"},{"h":1.303,"v":0.95,"Year":"2021"},
{"h":1.145,"v":0.94,"Year":"2021"},{"h":1.167,"v":0.94,"Year":"2021"},{"h":1.265,"v":0.94,"Year":"2021"},
{"h":1.129,"v":0.93,"Year":"2021"},{"h":1.17,"v":0.93,"Year":"2021"},{"h":1.199,"v":0.93,"Year":"2021"},{"h":1.218,"v":0.93,"Year":"2021"},{"h":1.246,"v":0.93,"Year":"2021"},{"h":1.402,"v":0.93,"Year":"2021"},
{"h":1.148,"v":0.921,"Year":"2021"},{"h":1.202,"v":0.921,"Year":"2021"},{"h":1.307,"v":0.921,"Year":"2021"},
{"h":1.132,"v":0.911,"Year":"2021"},{"h":1.161,"v":0.911,"Year":"2021"},{"h":1.186,"v":0.911,"Year":"2021"},{"h":1.208,"v":0.911,"Year":"2021"},{"h":1.23,"v":0.911,"Year":"2021"},{"h":1.259,"v":0.911,"Year":"2021"},
{"h":1.116,"v":0.901,"Year":"2021"},{"h":1.142,"v":0.901,"Year":"2021"},{"h":1.17,"v":0.901,"Year":"2021"},{"h":1.18,"v":0.901,"Year":"2021"},{"h":1.199,"v":0.901,"Year":"2021"},{"h":1.246,"v":0.901,"Year":"2021"},{"h":1.319,"v":0.901,"Year":"2021"},
{"h":1.102,"v":0.891,"Year":"2021"},{"h":1.129,"v":0.891,"Year":"2021"},{"h":1.142,"v":0.891,"Year":"2021"},{"h":1.253,"v":0.891,"Year":"2021"},{"h":1.269,"v":0.891,"Year":"2021"},
{"h":1.135,"v":0.881,"Year":"2021"},{"h":1.186,"v":0.881,"Year":"2021"},{"h":1.218,"v":0.881,"Year":"2021"},{"h":1.243,"v":0.881,"Year":"2021"},{"h":1.3,"v":0.881,"Year":"2021"},
{"h":1.161,"v":0.871,"Year":"2021"},{"h":1.221,"v":0.871,"Year":"2021"},{"h":1.237,"v":0.871,"Year":"2021"},{"h":1.37,"v":0.871,"Year":"2021"},
{"h":1.116,"v":0.861,"Year":"2021"},{"h":1.326,"v":0.861,"Year":"2021"},{"h":1.17,"v":0.851,"Year":"2021"},
{"h":1.538,"v":1.08,"Year":"2021"},{"h":1.58,"v":1.079,"Year":"2021"},{"h":1.829,"v":1.087,"Year":"2021"},{"h":1.519,"v":1.071,"Year":"2021"},{"h":1.51,"v":1.039,"Year":"2021"},{"h":1.51,"v":1.029,"Year":"2021"},{"h":1.489,"v":1.021,"Year":"2021"},{"h":1.55,"v":1.051,"Year":"2021"},{"h":1.58,"v":1.051,"Year":"2021"},{"h":1.669,"v":1.051,"Year":"2021"},
{"h":1.619,"v":1.031,"Year":"2021"},{"h":1.589,"v":1.011,"Year":"2021"},{"h":1.629,"v":0.991,"Year":"2021"},{"h":1.589,"v":0.98,"Year":"2021"},{"h":1.589,"v":0.97,"Year":"2021"},{"h":1.607,"v":0.97,"Year":"2021"},{"h":1.719,"v":0.99,"Year":"2021"},{"h":1.789,"v":0.94,"Year":"2021"},{"h":1.529,"v":0.983,"Year":"2021"},{"h":1.57,"v":0.911,"Year":"2021"},
{"h":1.638,"v":0.891,"Year":"2021"},{"h":1.561,"v":0.861,"Year":"2021"},{"h":1.491,"v":0.911,"Year":"2021"},
{"h":1.246,"v":0.85,"Year":"2021"},{"h":1.323,"v":0.85,"Year":"2021"},{"h":1.332,"v":0.85,"Year":"2021"},{"h":1.377,"v":0.85,"Year":"2021"},{"h":1.38,"v":0.84,"Year":"2021"},{"h":1.237,"v":0.83,"Year":"2021"},{"h":1.297,"v":0.83,"Year":"2021"},{"h":1.205,"v":0.82,"Year":"2021"},{"h":1.23,"v":0.82,"Year":"2021"},{"h":1.219,"v":0.8,"Year":"2021"},
{"h":1.25,"v":0.8,"Year":"2021"},{"h":1.281,"v":0.8,"Year":"2021"},{"h":1.205,"v":0.781,"Year":"2021"},{"h":1.25,"v":0.781,"Year":"2021"},{"h":1.272,"v":0.692,"Year":"2021"},{"h":1.323,"v":0.672,"Year":"2021"},
{"h":1.24,"v":1.59,"Year":"2022"},{"h":1.34,"v":1.35,"Year":"2022"},{"h":1.34,"v":1.32,"Year":"2022"},{"h":1.27,"v":1.32,"Year":"2022"},{"h":1.5,"v":1.3,"Year":"2022"},{"h":1.63,"v":1.34,"Year":"2022"},{"h":1.48,"v":1.24,"Year":"2022"},{"h":1.56,"v":1.24,"Year":"2022"},{"h":1.51,"v":1.21,"Year":"2022"},{"h":1.58,"v":1.18,"Year":"2022"},
{"h":1.83,"v":1.18,"Year":"2022"},{"h":1.0,"v":1.01,"Year":"2022"},{"h":0.92,"v":0.85,"Year":"2022"},{"h":0.93,"v":0.76,"Year":"2022"},{"h":0.98,"v":0.75,"Year":"2022"},{"h":1.8,"v":0.52,"Year":"2022"},{"h":1.94,"v":0.38,"Year":"2022"},
{"h":1.11,"v":0.73,"Year":"2022"},{"h":1.2,"v":0.72,"Year":"2022"},{"h":1.1,"v":0.7,"Year":"2022"},{"h":1.09,"v":0.69,"Year":"2022"},{"h":1.13,"v":0.68,"Year":"2022"},{"h":1.2,"v":0.68,"Year":"2022"},{"h":1.11,"v":0.66,"Year":"2022"},{"h":1.15,"v":0.67,"Year":"2022"},{"h":1.19,"v":0.65,"Year":"2022"},{"h":1.16,"v":0.64,"Year":"2022"},
{"h":1.18,"v":0.59,"Year":"2022"},{"h":1.12,"v":0.57,"Year":"2022"},{"h":1.03,"v":0.56,"Year":"2022"},{"h":1.19,"v":0.54,"Year":"2022"},{"h":1.19,"v":0.53,"Year":"2022"},{"h":1.2,"v":0.51,"Year":"2022"},{"h":1.17,"v":0.39,"Year":"2022"},
{"h":1.42,"v":0.5,"Year":"2022"},{"h":1.47,"v":0.5,"Year":"2022"},{"h":1.5,"v":0.5,"Year":"2022"},{"h":1.53,"v":0.5,"Year":"2022"},{"h":1.64,"v":0.5,"Year":"2022"},{"h":1.49,"v":0.49,"Year":"2022"},{"h":1.4,"v":0.47,"Year":"2022"},{"h":1.41,"v":0.47,"Year":"2022"},{"h":1.5,"v":0.48,"Year":"2022"},{"h":1.54,"v":0.47,"Year":"2022"},
{"h":1.6,"v":0.48,"Year":"2022"},{"h":1.51,"v":0.43,"Year":"2022"},{"h":1.64,"v":0.37,"Year":"2022"},
{"h":1.059,"v":1.131,"Year":"2022"},{"h":1.459,"v":1.131,"Year":"2022"},{"h":1.091,"v":1.098,"Year":"2022"},{"h":1.04,"v":1.059,"Year":"2022"},{"h":1.456,"v":1.059,"Year":"2022"},{"h":1.472,"v":1.039,"Year":"2022"},{"h":1.462,"v":1.0,"Year":"2022"},{"h":1.478,"v":1.0,"Year":"2022"},
{"h":1.03,"v":0.98,"Year":"2022"},{"h":1.437,"v":0.98,"Year":"2022"},{"h":1.462,"v":0.98,"Year":"2022"},{"h":1.484,"v":0.98,"Year":"2022"},{"h":1.449,"v":0.96,"Year":"2022"},{"h":1.475,"v":0.96,"Year":"2022"},{"h":1.456,"v":0.94,"Year":"2022"},{"h":1.475,"v":0.94,"Year":"2022"},
{"h":1.437,"v":0.921,"Year":"2022"},{"h":1.459,"v":0.921,"Year":"2022"},{"h":1.478,"v":0.921,"Year":"2022"},{"h":1.44,"v":0.901,"Year":"2022"},{"h":1.462,"v":0.901,"Year":"2022"},{"h":1.481,"v":0.901,"Year":"2022"},{"h":1.449,"v":0.881,"Year":"2022"},{"h":1.469,"v":0.881,"Year":"2022"},{"h":1.484,"v":0.881,"Year":"2022"},
{"h":1.072,"v":0.861,"Year":"2022"},{"h":1.446,"v":0.861,"Year":"2022"},{"h":1.465,"v":0.861,"Year":"2022"},{"h":1.484,"v":0.861,"Year":"2022"},
{"h":1.129,"v":0.842,"Year":"2022"},{"h":1.059,"v":0.822,"Year":"2022"},{"h":1.167,"v":0.822,"Year":"2022"},{"h":1.189,"v":0.802,"Year":"2022"},{"h":1.189,"v":0.782,"Year":"2022"},{"h":1.157,"v":0.762,"Year":"2022"},{"h":1.17,"v":0.762,"Year":"2022"},
{"h":1.688,"v":0.591,"Year":"2022"},{"h":1.567,"v":0.562,"Year":"2022"},{"h":1.58,"v":0.562,"Year":"2022"},{"h":1.592,"v":0.562,"Year":"2022"},{"h":1.627,"v":0.552,"Year":"2022"},{"h":1.608,"v":0.542,"Year":"2022"},{"h":1.669,"v":0.542,"Year":"2022"},{"h":1.421,"v":0.509,"Year":"2022"},{"h":1.44,"v":0.509,"Year":"2022"},{"h":1.5,"v":0.509,"Year":"2022"},
{"h":1.529,"v":0.509,"Year":"2022"},{"h":1.637,"v":0.509,"Year":"2022"},{"h":1.678,"v":0.509,"Year":"2022"},
{"h":1.557,"v":1.089,"Year":"2022"},{"h":1.578,"v":1.089,"Year":"2022"},{"h":1.599,"v":1.089,"Year":"2022"},{"h":1.638,"v":1.088,"Year":"2022"},{"h":1.529,"v":1.051,"Year":"2022"},{"h":1.599,"v":1.051,"Year":"2022"},{"h":1.638,"v":1.051,"Year":"2022"},{"h":1.789,"v":1.061,"Year":"2022"},{"h":1.526,"v":1.031,"Year":"2022"},{"h":1.538,"v":1.021,"Year":"2022"},
{"h":1.559,"v":1.031,"Year":"2022"},{"h":1.578,"v":1.031,"Year":"2022"},{"h":1.65,"v":1.011,"Year":"2022"},{"h":1.659,"v":1.011,"Year":"2022"},{"h":1.689,"v":1.001,"Year":"2022"},{"h":1.699,"v":1.001,"Year":"2022"},{"h":1.529,"v":1.001,"Year":"2022"},{"h":1.494,"v":1.001,"Year":"2022"},{"h":1.589,"v":0.991,"Year":"2022"},{"h":1.621,"v":0.98,"Year":"2022"},
{"h":1.63,"v":0.98,"Year":"2022"},{"h":1.618,"v":0.96,"Year":"2022"},{"h":1.629,"v":0.96,"Year":"2022"},{"h":1.64,"v":0.96,"Year":"2022"},{"h":1.678,"v":0.97,"Year":"2022"},{"h":1.759,"v":0.98,"Year":"2022"},{"h":1.838,"v":0.97,"Year":"2022"},{"h":1.529,"v":0.97,"Year":"2022"},{"h":1.51,"v":0.98,"Year":"2022"},{"h":1.504,"v":0.96,"Year":"2022"},
{"h":1.513,"v":0.95,"Year":"2022"},{"h":1.526,"v":0.95,"Year":"2022"},{"h":1.542,"v":0.95,"Year":"2022"},{"h":1.559,"v":0.95,"Year":"2022"},{"h":1.589,"v":0.95,"Year":"2022"},{"h":1.526,"v":0.931,"Year":"2022"},{"h":1.51,"v":0.931,"Year":"2022"},{"h":1.507,"v":0.911,"Year":"2022"},{"h":1.659,"v":0.921,"Year":"2022"},{"h":1.538,"v":0.901,"Year":"2022"},
{"h":1.559,"v":0.911,"Year":"2022"},{"h":1.589,"v":0.911,"Year":"2022"},{"h":1.577,"v":0.901,"Year":"2022"},{"h":1.567,"v":0.891,"Year":"2022"},{"h":1.589,"v":0.881,"Year":"2022"},{"h":1.545,"v":0.881,"Year":"2022"},{"h":1.529,"v":0.871,"Year":"2022"},{"h":1.51,"v":0.871,"Year":"2022"},{"h":1.548,"v":0.852,"Year":"2022"},{"h":1.57,"v":0.871,"Year":"2022"},
{"h":1.58,"v":0.861,"Year":"2022"},{"h":1.58,"v":0.842,"Year":"2022"},{"h":1.659,"v":0.861,"Year":"2022"},{"h":1.678,"v":0.871,"Year":"2022"},{"h":1.699,"v":0.871,"Year":"2022"},{"h":1.738,"v":0.881,"Year":"2022"},{"h":1.738,"v":0.84,"Year":"2022"},{"h":1.608,"v":0.842,"Year":"2022"},{"h":1.621,"v":0.83,"Year":"2022"},{"h":1.808,"v":0.82,"Year":"2022"},
{"h":1.561,"v":0.822,"Year":"2022"},{"h":1.57,"v":0.812,"Year":"2022"},{"h":1.557,"v":0.802,"Year":"2022"},{"h":1.58,"v":0.802,"Year":"2022"},{"h":1.599,"v":0.802,"Year":"2022"},{"h":1.638,"v":0.822,"Year":"2022"},{"h":1.629,"v":0.802,"Year":"2022"},{"h":1.638,"v":0.812,"Year":"2022"},{"h":1.561,"v":0.792,"Year":"2022"},{"h":1.58,"v":0.792,"Year":"2022"},
{"h":1.65,"v":0.792,"Year":"2022"},{"h":1.659,"v":0.782,"Year":"2022"},{"h":1.599,"v":0.782,"Year":"2022"},{"h":1.629,"v":0.782,"Year":"2022"},{"h":1.557,"v":0.782,"Year":"2022"},{"h":1.54,"v":0.772,"Year":"2022"},{"h":1.551,"v":0.762,"Year":"2022"},{"h":1.689,"v":0.771,"Year":"2022"},{"h":1.719,"v":0.781,"Year":"2022"},{"h":1.75,"v":0.771,"Year":"2022"},
{"h":1.561,"v":0.753,"Year":"2022"},{"h":1.573,"v":0.753,"Year":"2022"},{"h":1.589,"v":0.753,"Year":"2022"},{"h":1.608,"v":0.753,"Year":"2022"},{"h":1.629,"v":0.762,"Year":"2022"},{"h":1.659,"v":0.751,"Year":"2022"},{"h":1.573,"v":0.741,"Year":"2022"},{"h":1.596,"v":0.741,"Year":"2022"},{"h":1.58,"v":0.731,"Year":"2022"},{"h":1.719,"v":0.741,"Year":"2022"},
{"h":1.699,"v":0.731,"Year":"2022"},{"h":1.888,"v":0.751,"Year":"2022"},{"h":1.54,"v":0.71,"Year":"2022"},{"h":1.551,"v":0.7,"Year":"2022"},{"h":1.57,"v":0.7,"Year":"2022"},{"h":1.557,"v":0.69,"Year":"2022"},{"h":1.545,"v":0.68,"Year":"2022"},{"h":1.564,"v":0.68,"Year":"2022"},{"h":1.551,"v":0.67,"Year":"2022"},{"h":1.607,"v":0.72,"Year":"2022"},
{"h":1.629,"v":0.71,"Year":"2022"},{"h":1.607,"v":0.7,"Year":"2022"},{"h":1.621,"v":0.69,"Year":"2022"},{"h":1.64,"v":0.69,"Year":"2022"},{"h":1.596,"v":0.68,"Year":"2022"},{"h":1.65,"v":0.72,"Year":"2022"},{"h":1.678,"v":0.72,"Year":"2022"},{"h":1.689,"v":0.71,"Year":"2022"},{"h":1.689,"v":0.67,"Year":"2022"},{"h":1.538,"v":0.651,"Year":"2022"},
{"h":1.608,"v":0.651,"Year":"2022"},{"h":1.58,"v":0.641,"Year":"2022"},{"h":1.589,"v":0.641,"Year":"2022"},{"h":1.561,"v":0.631,"Year":"2022"},{"h":1.599,"v":0.631,"Year":"2022"},{"h":1.55,"v":0.611,"Year":"2022"},{"h":1.57,"v":0.621,"Year":"2022"},{"h":1.599,"v":0.611,"Year":"2022"},{"h":1.638,"v":0.611,"Year":"2022"},{"h":1.659,"v":0.631,"Year":"2022"},
{"h":1.68,"v":0.641,"Year":"2022"},{"h":1.699,"v":0.621,"Year":"2022"},{"h":1.719,"v":0.611,"Year":"2022"},{"h":1.729,"v":0.631,"Year":"2022"},{"h":1.859,"v":0.651,"Year":"2022"},
{"h":1.15,"v":1.187,"Year":"2022"},{"h":1.3,"v":1.187,"Year":"2022"},{"h":1.289,"v":1.169,"Year":"2022"},{"h":1.34,"v":1.169,"Year":"2022"},{"h":1.38,"v":1.15,"Year":"2022"},{"h":1.289,"v":1.13,"Year":"2022"},{"h":1.15,"v":1.12,"Year":"2022"},{"h":1.28,"v":1.11,"Year":"2022"},{"h":1.289,"v":1.1,"Year":"2022"},{"h":1.102,"v":1.09,"Year":"2022"},
{"h":1.259,"v":1.079,"Year":"2022"},{"h":1.31,"v":1.079,"Year":"2022"},{"h":1.351,"v":1.079,"Year":"2022"},{"h":1.37,"v":1.079,"Year":"2022"},{"h":1.3,"v":1.069,"Year":"2022"},{"h":1.319,"v":1.069,"Year":"2022"},{"h":1.399,"v":1.069,"Year":"2022"},{"h":1.419,"v":1.069,"Year":"2022"},
{"h":1.102,"v":1.049,"Year":"2022"},{"h":1.28,"v":1.049,"Year":"2022"},{"h":1.338,"v":1.049,"Year":"2022"},{"h":1.427,"v":1.049,"Year":"2022"},{"h":1.345,"v":1.039,"Year":"2022"},{"h":1.37,"v":1.039,"Year":"2022"},{"h":1.399,"v":1.039,"Year":"2022"},
{"h":1.129,"v":1.029,"Year":"2022"},{"h":1.189,"v":1.029,"Year":"2022"},{"h":1.307,"v":1.029,"Year":"2022"},{"h":1.386,"v":1.029,"Year":"2022"},
{"h":1.119,"v":1.019,"Year":"2022"},{"h":1.138,"v":1.019,"Year":"2022"},{"h":1.319,"v":1.019,"Year":"2022"},{"h":1.338,"v":1.019,"Year":"2022"},{"h":1.367,"v":1.019,"Year":"2022"},{"h":1.396,"v":1.019,"Year":"2022"},
{"h":1.17,"v":1.01,"Year":"2022"},{"h":1.259,"v":1.01,"Year":"2022"},{"h":1.272,"v":1.01,"Year":"2022"},{"h":1.307,"v":1.01,"Year":"2022"},{"h":1.326,"v":1.01,"Year":"2022"},{"h":1.357,"v":1.01,"Year":"2022"},{"h":1.376,"v":1.01,"Year":"2022"},{"h":1.411,"v":1.01,"Year":"2022"},{"h":1.424,"v":1.01,"Year":"2022"},
{"h":1.199,"v":1.0,"Year":"2022"},{"h":1.227,"v":1.0,"Year":"2022"},{"h":1.278,"v":1.0,"Year":"2022"},{"h":1.297,"v":1.0,"Year":"2022"},{"h":1.399,"v":1.0,"Year":"2022"},
{"h":1.218,"v":0.99,"Year":"2022"},{"h":1.23,"v":0.99,"Year":"2022"},{"h":1.319,"v":0.99,"Year":"2022"},{"h":1.335,"v":0.99,"Year":"2022"},{"h":1.351,"v":0.99,"Year":"2022"},{"h":1.389,"v":0.99,"Year":"2022"},{"h":1.402,"v":0.99,"Year":"2022"},
{"h":1.218,"v":0.98,"Year":"2022"},{"h":1.27,"v":0.98,"Year":"2022"},{"h":1.303,"v":0.98,"Year":"2022"},{"h":1.322,"v":0.98,"Year":"2022"},{"h":1.361,"v":0.98,"Year":"2022"},
{"h":1.31,"v":0.97,"Year":"2022"},{"h":1.338,"v":0.97,"Year":"2022"},{"h":1.373,"v":0.97,"Year":"2022"},{"h":1.392,"v":0.97,"Year":"2022"},{"h":1.402,"v":0.97,"Year":"2022"},
{"h":1.148,"v":0.96,"Year":"2022"},{"h":1.161,"v":0.96,"Year":"2022"},{"h":1.27,"v":0.96,"Year":"2022"},{"h":1.319,"v":0.96,"Year":"2022"},{"h":1.348,"v":0.96,"Year":"2022"},{"h":1.383,"v":0.96,"Year":"2022"},{"h":1.411,"v":0.96,"Year":"2022"},{"h":1.424,"v":0.96,"Year":"2022"},
{"h":1.361,"v":0.95,"Year":"2022"},{"h":1.37,"v":0.95,"Year":"2022"},{"h":1.392,"v":0.95,"Year":"2022"},
{"h":1.237,"v":0.94,"Year":"2022"},{"h":1.25,"v":0.94,"Year":"2022"},{"h":1.319,"v":0.94,"Year":"2022"},{"h":1.338,"v":0.94,"Year":"2022"},{"h":1.427,"v":0.94,"Year":"2022"},
{"h":1.278,"v":0.93,"Year":"2022"},{"h":1.297,"v":0.93,"Year":"2022"},{"h":1.37,"v":0.93,"Year":"2022"},
{"h":1.18,"v":0.921,"Year":"2022"},{"h":1.269,"v":0.921,"Year":"2022"},{"h":1.284,"v":0.921,"Year":"2022"},{"h":1.319,"v":0.921,"Year":"2022"},{"h":1.357,"v":0.921,"Year":"2022"},{"h":1.376,"v":0.921,"Year":"2022"},{"h":1.415,"v":0.921,"Year":"2022"},
{"h":1.3,"v":0.911,"Year":"2022"},{"h":1.338,"v":0.911,"Year":"2022"},{"h":1.396,"v":0.911,"Year":"2022"},{"h":1.418,"v":0.911,"Year":"2022"},
{"h":1.288,"v":0.901,"Year":"2022"},{"h":1.361,"v":0.901,"Year":"2022"},{"h":1.408,"v":0.901,"Year":"2022"},
{"h":1.161,"v":0.891,"Year":"2022"},{"h":1.208,"v":0.891,"Year":"2022"},{"h":1.23,"v":0.891,"Year":"2022"},{"h":1.338,"v":0.891,"Year":"2022"},{"h":1.389,"v":0.891,"Year":"2022"},{"h":1.421,"v":0.891,"Year":"2022"},
{"h":1.119,"v":0.881,"Year":"2022"},{"h":1.278,"v":0.881,"Year":"2022"},{"h":1.361,"v":0.881,"Year":"2022"},{"h":1.402,"v":0.881,"Year":"2022"},
{"h":1.129,"v":0.871,"Year":"2022"},{"h":1.259,"v":0.871,"Year":"2022"},{"h":1.294,"v":0.871,"Year":"2022"},{"h":1.316,"v":0.871,"Year":"2022"},{"h":1.338,"v":0.871,"Year":"2022"},{"h":1.383,"v":0.871,"Year":"2022"},{"h":1.415,"v":0.871,"Year":"2022"},
{"h":1.199,"v":0.861,"Year":"2022"},{"h":1.284,"v":0.861,"Year":"2022"},{"h":1.3,"v":0.861,"Year":"2022"},{"h":1.348,"v":0.861,"Year":"2022"},{"h":1.37,"v":0.861,"Year":"2022"},{"h":1.399,"v":0.861,"Year":"2022"},{"h":1.424,"v":0.861,"Year":"2022"},{"h":1.129,"v":0.851,"Year":"2022"},
{"h":1.259,"v":0.85,"Year":"2022"},{"h":1.288,"v":0.85,"Year":"2022"},{"h":1.3,"v":0.85,"Year":"2022"},{"h":1.351,"v":0.85,"Year":"2022"},{"h":1.364,"v":0.85,"Year":"2022"},{"h":1.399,"v":0.85,"Year":"2022"},{"h":1.411,"v":0.85,"Year":"2022"},{"h":1.424,"v":0.85,"Year":"2022"},{"h":1.45,"v":0.85,"Year":"2022"},{"h":1.465,"v":0.85,"Year":"2022"},
{"h":1.481,"v":0.85,"Year":"2022"},{"h":1.507,"v":0.85,"Year":"2022"},{"h":1.519,"v":0.85,"Year":"2022"},
{"h":1.269,"v":0.84,"Year":"2022"},{"h":1.313,"v":0.84,"Year":"2022"},{"h":1.329,"v":0.84,"Year":"2022"},{"h":1.348,"v":0.84,"Year":"2022"},{"h":1.424,"v":0.84,"Year":"2022"},{"h":1.443,"v":0.84,"Year":"2022"},{"h":1.472,"v":0.84,"Year":"2022"},{"h":1.494,"v":0.84,"Year":"2022"},{"h":1.519,"v":0.84,"Year":"2022"},
{"h":1.281,"v":0.83,"Year":"2022"},{"h":1.31,"v":0.83,"Year":"2022"},{"h":1.326,"v":0.83,"Year":"2022"},{"h":1.38,"v":0.83,"Year":"2022"},{"h":1.399,"v":0.83,"Year":"2022"},{"h":1.469,"v":0.83,"Year":"2022"},
{"h":1.219,"v":0.82,"Year":"2022"},{"h":1.259,"v":0.82,"Year":"2022"},{"h":1.275,"v":0.82,"Year":"2022"},{"h":1.351,"v":0.82,"Year":"2022"},{"h":1.361,"v":0.82,"Year":"2022"},{"h":1.389,"v":0.82,"Year":"2022"},{"h":1.437,"v":0.82,"Year":"2022"},{"h":1.488,"v":0.82,"Year":"2022"},{"h":1.51,"v":0.82,"Year":"2022"},
{"h":1.25,"v":0.81,"Year":"2022"},{"h":1.297,"v":0.81,"Year":"2022"},{"h":1.313,"v":0.81,"Year":"2022"},{"h":1.338,"v":0.81,"Year":"2022"},{"h":1.386,"v":0.81,"Year":"2022"},{"h":1.408,"v":0.81,"Year":"2022"},{"h":1.421,"v":0.81,"Year":"2022"},{"h":1.453,"v":0.81,"Year":"2022"},{"h":1.465,"v":0.81,"Year":"2022"},{"h":1.497,"v":0.81,"Year":"2022"},
{"h":1.205,"v":0.8,"Year":"2022"},{"h":1.269,"v":0.8,"Year":"2022"},{"h":1.291,"v":0.8,"Year":"2022"},{"h":1.304,"v":0.8,"Year":"2022"},{"h":1.323,"v":0.8,"Year":"2022"},{"h":1.357,"v":0.8,"Year":"2022"},{"h":1.37,"v":0.8,"Year":"2022"},{"h":1.392,"v":0.8,"Year":"2022"},{"h":1.418,"v":0.8,"Year":"2022"},{"h":1.437,"v":0.8,"Year":"2022"},
{"h":1.481,"v":0.8,"Year":"2022"},{"h":1.532,"v":0.8,"Year":"2022"},
{"h":1.211,"v":0.79,"Year":"2022"},{"h":1.23,"v":0.79,"Year":"2022"},{"h":1.25,"v":0.79,"Year":"2022"},{"h":1.332,"v":0.79,"Year":"2022"},{"h":1.342,"v":0.79,"Year":"2022"},{"h":1.399,"v":0.79,"Year":"2022"},{"h":1.43,"v":0.79,"Year":"2022"},{"h":1.456,"v":0.79,"Year":"2022"},{"h":1.472,"v":0.79,"Year":"2022"},{"h":1.51,"v":0.79,"Year":"2022"},
{"h":1.529,"v":0.79,"Year":"2022"},
{"h":1.3,"v":0.781,"Year":"2022"},{"h":1.348,"v":0.781,"Year":"2022"},{"h":1.37,"v":0.781,"Year":"2022"},{"h":1.38,"v":0.781,"Year":"2022"},{"h":1.411,"v":0.781,"Year":"2022"},{"h":1.424,"v":0.781,"Year":"2022"},{"h":1.443,"v":0.781,"Year":"2022"},{"h":1.484,"v":0.781,"Year":"2022"},{"h":1.535,"v":0.781,"Year":"2022"},
{"h":1.269,"v":0.771,"Year":"2022"},{"h":1.329,"v":0.771,"Year":"2022"},{"h":1.399,"v":0.771,"Year":"2022"},{"h":1.421,"v":0.771,"Year":"2022"},{"h":1.446,"v":0.771,"Year":"2022"},{"h":1.465,"v":0.771,"Year":"2022"},{"h":1.507,"v":0.771,"Year":"2022"},
{"h":1.219,"v":0.761,"Year":"2022"},{"h":1.259,"v":0.761,"Year":"2022"},{"h":1.291,"v":0.761,"Year":"2022"},{"h":1.307,"v":0.761,"Year":"2022"},{"h":1.329,"v":0.761,"Year":"2022"},{"h":1.357,"v":0.761,"Year":"2022"},{"h":1.37,"v":0.761,"Year":"2022"},{"h":1.405,"v":0.761,"Year":"2022"},{"h":1.427,"v":0.761,"Year":"2022"},{"h":1.44,"v":0.761,"Year":"2022"},
{"h":1.456,"v":0.761,"Year":"2022"},{"h":1.472,"v":0.761,"Year":"2022"},{"h":1.5,"v":0.761,"Year":"2022"},{"h":1.532,"v":0.761,"Year":"2022"},
{"h":1.3,"v":0.751,"Year":"2022"},{"h":1.31,"v":0.751,"Year":"2022"},{"h":1.348,"v":0.751,"Year":"2022"},{"h":1.367,"v":0.751,"Year":"2022"},{"h":1.386,"v":0.751,"Year":"2022"},{"h":1.399,"v":0.751,"Year":"2022"},{"h":1.418,"v":0.751,"Year":"2022"},{"h":1.456,"v":0.751,"Year":"2022"},{"h":1.513,"v":0.751,"Year":"2022"},
{"h":1.24,"v":0.741,"Year":"2022"},{"h":1.269,"v":0.741,"Year":"2022"},{"h":1.338,"v":0.741,"Year":"2022"},{"h":1.354,"v":0.741,"Year":"2022"},{"h":1.38,"v":0.741,"Year":"2022"},{"h":1.389,"v":0.741,"Year":"2022"},{"h":1.408,"v":0.741,"Year":"2022"},{"h":1.43,"v":0.741,"Year":"2022"},{"h":1.446,"v":0.741,"Year":"2022"},{"h":1.5,"v":0.741,"Year":"2022"},
{"h":1.519,"v":0.741,"Year":"2022"},
{"h":1.224,"v":0.731,"Year":"2022"},{"h":1.319,"v":0.731,"Year":"2022"},{"h":1.361,"v":0.731,"Year":"2022"},{"h":1.402,"v":0.731,"Year":"2022"},{"h":1.456,"v":0.731,"Year":"2022"},{"h":1.469,"v":0.731,"Year":"2022"},{"h":1.516,"v":0.731,"Year":"2022"},
{"h":1.208,"v":0.721,"Year":"2022"},{"h":1.215,"v":0.721,"Year":"2022"},{"h":1.269,"v":0.721,"Year":"2022"},{"h":1.316,"v":0.721,"Year":"2022"},{"h":1.332,"v":0.721,"Year":"2022"},{"h":1.38,"v":0.721,"Year":"2022"},{"h":1.392,"v":0.721,"Year":"2022"},{"h":1.418,"v":0.721,"Year":"2022"},{"h":1.459,"v":0.721,"Year":"2022"},{"h":1.488,"v":0.721,"Year":"2022"},
{"h":1.205,"v":0.711,"Year":"2022"},{"h":1.326,"v":0.711,"Year":"2022"},{"h":1.377,"v":0.711,"Year":"2022"},{"h":1.405,"v":0.711,"Year":"2022"},{"h":1.421,"v":0.711,"Year":"2022"},{"h":1.44,"v":0.711,"Year":"2022"},{"h":1.478,"v":0.711,"Year":"2022"},{"h":1.503,"v":0.711,"Year":"2022"},{"h":1.532,"v":0.711,"Year":"2022"},
{"h":1.259,"v":0.701,"Year":"2022"},{"h":1.31,"v":0.701,"Year":"2022"},{"h":1.329,"v":0.701,"Year":"2022"},{"h":1.399,"v":0.701,"Year":"2022"},{"h":1.456,"v":0.701,"Year":"2022"},{"h":1.491,"v":0.701,"Year":"2022"},{"h":1.51,"v":0.701,"Year":"2022"},
{"h":1.25,"v":0.692,"Year":"2022"},{"h":1.291,"v":0.692,"Year":"2022"},{"h":1.316,"v":0.692,"Year":"2022"},{"h":1.332,"v":0.692,"Year":"2022"},{"h":1.348,"v":0.692,"Year":"2022"},{"h":1.389,"v":0.692,"Year":"2022"},{"h":1.418,"v":0.692,"Year":"2022"},{"h":1.43,"v":0.692,"Year":"2022"},{"h":1.45,"v":0.692,"Year":"2022"},{"h":1.519,"v":0.692,"Year":"2022"},
{"h":1.205,"v":0.682,"Year":"2022"},{"h":1.265,"v":0.682,"Year":"2022"},{"h":1.329,"v":0.682,"Year":"2022"},{"h":1.421,"v":0.682,"Year":"2022"},{"h":1.459,"v":0.682,"Year":"2022"},{"h":1.526,"v":0.682,"Year":"2022"},
{"h":1.269,"v":0.672,"Year":"2022"},{"h":1.31,"v":0.672,"Year":"2022"},{"h":1.367,"v":0.672,"Year":"2022"},{"h":1.386,"v":0.672,"Year":"2022"},{"h":1.427,"v":0.672,"Year":"2022"},{"h":1.478,"v":0.672,"Year":"2022"},{"h":1.488,"v":0.672,"Year":"2022"},
{"h":1.205,"v":0.662,"Year":"2022"},{"h":1.237,"v":0.662,"Year":"2022"},{"h":1.291,"v":0.662,"Year":"2022"},{"h":1.31,"v":0.662,"Year":"2022"},{"h":1.323,"v":0.662,"Year":"2022"},{"h":1.389,"v":0.662,"Year":"2022"},{"h":1.418,"v":0.662,"Year":"2022"},{"h":1.459,"v":0.662,"Year":"2022"},{"h":1.507,"v":0.662,"Year":"2022"},{"h":1.523,"v":0.662,"Year":"2022"},
{"h":1.23,"v":0.652,"Year":"2022"},{"h":1.399,"v":0.652,"Year":"2022"},{"h":1.421,"v":0.652,"Year":"2022"},{"h":1.44,"v":0.652,"Year":"2022"},{"h":1.469,"v":0.652,"Year":"2022"},{"h":1.497,"v":0.652,"Year":"2022"},{"h":1.519,"v":0.652,"Year":"2022"},{"h":1.532,"v":0.652,"Year":"2022"},
{"h":1.319,"v":0.642,"Year":"2022"},{"h":1.338,"v":0.642,"Year":"2022"},{"h":1.357,"v":0.642,"Year":"2022"},{"h":1.462,"v":0.642,"Year":"2022"},
{"h":1.3,"v":0.632,"Year":"2022"},{"h":1.367,"v":0.632,"Year":"2022"},{"h":1.411,"v":0.632,"Year":"2022"},{"h":1.43,"v":0.632,"Year":"2022"},{"h":1.44,"v":0.632,"Year":"2022"},{"h":1.472,"v":0.632,"Year":"2022"},
{"h":1.399,"v":0.622,"Year":"2022"},{"h":1.427,"v":0.622,"Year":"2022"},{"h":1.469,"v":0.622,"Year":"2022"},{"h":1.488,"v":0.622,"Year":"2022"},
{"h":1.319,"v":0.611,"Year":"2022"},{"h":1.45,"v":0.611,"Year":"2022"},
{"h":1.24,"v":0.601,"Year":"2022"},{"h":1.27,"v":0.601,"Year":"2022"},{"h":1.289,"v":0.601,"Year":"2022"},{"h":1.329,"v":0.601,"Year":"2022"},{"h":1.342,"v":0.601,"Year":"2022"},{"h":1.38,"v":0.601,"Year":"2022"},{"h":1.399,"v":0.601,"Year":"2022"},
{"h":1.459,"v":0.591,"Year":"2022"},{"h":1.23,"v":0.581,"Year":"2022"},{"h":1.43,"v":0.581,"Year":"2022"},{"h":1.51,"v":0.581,"Year":"2022"},{"h":1.38,"v":0.571,"Year":"2022"},{"h":1.519,"v":0.571,"Year":"2022"},{"h":1.532,"v":0.571,"Year":"2022"},
{"h":1.24,"v":0.561,"Year":"2022"},{"h":1.259,"v":0.561,"Year":"2022"},{"h":1.27,"v":0.561,"Year":"2022"},{"h":1.299,"v":0.561,"Year":"2022"},{"h":1.389,"v":0.561,"Year":"2022"},
{"h":1.23,"v":0.552,"Year":"2022"},{"h":1.37,"v":0.552,"Year":"2022"},{"h":1.421,"v":0.552,"Year":"2022"},{"h":1.459,"v":0.54,"Year":"2022"},{"h":1.5,"v":0.54,"Year":"2022"},{"h":1.44,"v":0.522,"Year":"2022"},{"h":1.205,"v":0.512,"Year":"2022"}
  ]},
  "layer": [
    {
      "mark": {"type": "point", "filled": true, "size": 0, "color": "#F2F2F2"},
      "encoding": {
        "x": {
          "field": "h", "type": "quantitative",
          "scale": {"domain": [0.428, 2.012], "nice": false, "zero": false},
          "axis": {"orient": "top", "values": [0.75, 1.25, 1.75], "grid": true, "gridColor": "white", "gridWidth": 2, "labels": false, "ticks": false, "domain": false, "title": null}
        },
        "y": {
          "field": "v", "type": "quantitative",
          "scale": {"domain": [0.2825, 2.2075], "nice": false, "zero": false},
          "axis": {"orient": "right", "values": [0.75, 1.25, 1.75], "grid": true, "gridColor": "white", "gridWidth": 2, "labels": false, "ticks": false, "domain": false, "title": null}
        },
        "opacity": {
          "field": "Year", "type": "ordinal",
          "scale": {"range": [1, 1]},
          "legend": {
            "orient": "none", "legendX": 1721, "legendY": 828, "zindex": 0,
            "title": null, "padding": 0, "offset": 0,
            "symbolType": "square", "symbolSize": 5184, "symbolFillColor": "#F2F2F2",
            "symbolStrokeWidth": 0, "symbolOffset": 0,
            "labelFontSize": 2, "labelOpacity": 0, "rowPadding": 0
          }
        }
      }
    },
    {
      "mark": {"type": "circle", "size": 361, "opacity": 1},
      "encoding": {
        "x": {
          "field": "h", "type": "quantitative",
          "axis": {
            "values": [0.5, 1, 1.5, 2], "format": ".1f", "grid": true, "gridColor": "white", "gridWidth": 4,
            "domain": false, "tickColor": "#333333", "tickWidth": 4, "tickSize": 11,
            "labelColor": "#4D4D4D", "labelFontSize": 36.7, "labelPadding": 7, "labelFlush": false, "labelOverlap": false,
            "title": "Horizontal Movement (Inches)", "titlePadding": 18
          }
        },
        "y": {
          "field": "v", "type": "quantitative",
          "axis": {
            "values": [0.5, 1, 1.5, 2], "format": ".1f", "grid": true, "gridColor": "white", "gridWidth": 4,
            "domain": false, "tickColor": "#333333", "tickWidth": 4, "tickSize": 11,
            "labelColor": "#4D4D4D", "labelFontSize": 36.7, "labelPadding": 9, "labelFlush": false, "labelOverlap": false,
            "title": "Vertical Movement (Inches)", "titlePadding": 18
          }
        },
        "color": {
          "field": "Year", "type": "nominal",
          "scale": {"domain": ["2017", "2018", "2020", "2021", "2022"], "range": ["#F8766D", "#A3A500", "#00BF7D", "#00B0F6", "#E76BF3"]},
          "legend": {
            "orient": "none", "legendX": 1721, "legendY": 766, "zindex": 1,
            "title": "Year", "titleFontSize": 45.8, "titleFontWeight": "normal", "titleColor": "black", "titlePadding": 36,
            "padding": 0, "offset": 0,
            "symbolType": "circle", "symbolSize": 361, "symbolStrokeWidth": 0, "symbolOffset": 17.5, "symbolOpacity": 1,
            "labelFontSize": 36.7, "labelColor": "black", "labelOffset": 39.5, "rowPadding": 33.6
          }
        }
      }
    }
  ],
  "resolve": {"axis": {"x": "independent", "y": "independent"}},
  "config": {
    "font": "Liberation Sans",
    "view": {"fill": "#EBEBEB", "stroke": null},
    "axis": {"labelFont": "Liberation Sans", "titleFont": "Liberation Sans", "titleFontSize": 45.8, "titleFontWeight": "normal", "titleColor": "black"},
    "legend": {"labelFont": "Liberation Sans", "titleFont": "Liberation Sans"}
  }
}
